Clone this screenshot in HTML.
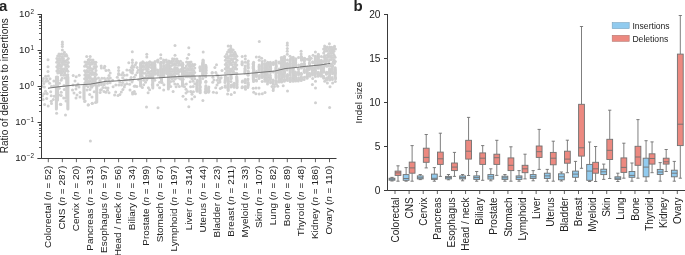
<!DOCTYPE html>
<html><head><meta charset="utf-8"><style>
html,body{margin:0;padding:0;background:#fff;}
body{width:685px;height:255px;overflow:hidden;}
svg{display:block;will-change:transform;font-family:"Liberation Sans", sans-serif;fill:#222;}
</style></head><body>
<svg width="685" height="255" viewBox="0 0 685 255">
<g fill="#d0d0d0">
<circle cx="48.0" cy="59.7" r="1.50"/>
<circle cx="48.0" cy="66.8" r="1.50"/>
<circle cx="48.0" cy="71.5" r="1.50"/>
<circle cx="50.0" cy="78.8" r="1.50"/>
<circle cx="44.6" cy="104.4" r="1.50"/>
<circle cx="48.2" cy="106.0" r="1.50"/>
<circle cx="51.5" cy="103.4" r="1.50"/>
<circle cx="43.5" cy="78.5" r="1.50"/>
<circle cx="44.4" cy="87.0" r="1.50"/>
<circle cx="47.1" cy="93.8" r="1.50"/>
<circle cx="50.7" cy="91.8" r="1.50"/>
<circle cx="53.3" cy="99.6" r="1.50"/>
<circle cx="43.1" cy="99.6" r="1.50"/>
<circle cx="45.6" cy="76.2" r="1.50"/>
<circle cx="48.3" cy="76.0" r="1.50"/>
<circle cx="46.6" cy="78.7" r="1.50"/>
<circle cx="42.5" cy="81.1" r="1.50"/>
<circle cx="45.7" cy="81.2" r="1.50"/>
<circle cx="48.0" cy="81.0" r="1.50"/>
<circle cx="53.9" cy="81.0" r="1.50"/>
<circle cx="43.8" cy="83.5" r="1.50"/>
<circle cx="49.6" cy="83.3" r="1.50"/>
<circle cx="42.2" cy="86.2" r="1.50"/>
<circle cx="51.5" cy="86.2" r="1.50"/>
<circle cx="54.0" cy="86.1" r="1.50"/>
<circle cx="45.5" cy="91.2" r="1.50"/>
<circle cx="43.8" cy="93.7" r="1.50"/>
<circle cx="46.7" cy="93.5" r="1.50"/>
<circle cx="42.5" cy="96.0" r="1.50"/>
<circle cx="51.2" cy="95.7" r="1.50"/>
<circle cx="54.2" cy="96.3" r="1.50"/>
<circle cx="46.7" cy="98.5" r="1.50"/>
<circle cx="51.2" cy="101.3" r="1.50"/>
<circle cx="62.4" cy="42.1" r="1.50"/>
<circle cx="62.4" cy="44.3" r="1.50"/>
<circle cx="62.4" cy="46.5" r="1.50"/>
<circle cx="62.4" cy="50.0" r="1.50"/>
<circle cx="56.6" cy="113.3" r="1.50"/>
<circle cx="65.5" cy="114.9" r="1.50"/>
<circle cx="60.9" cy="104.4" r="1.50"/>
<circle cx="63.7" cy="98.0" r="1.50"/>
<circle cx="61.2" cy="92.2" r="1.50"/>
<circle cx="60.4" cy="104.3" r="1.50"/>
<circle cx="64.3" cy="89.4" r="1.50"/>
<circle cx="59.0" cy="95.0" r="1.50"/>
<circle cx="66.0" cy="101.0" r="1.50"/>
<circle cx="64.4" cy="52.2" r="1.50"/>
<circle cx="59.0" cy="54.0" r="1.50"/>
<circle cx="61.3" cy="54.1" r="1.50"/>
<circle cx="63.5" cy="54.0" r="1.50"/>
<circle cx="66.1" cy="54.4" r="1.50"/>
<circle cx="57.7" cy="56.1" r="1.50"/>
<circle cx="59.8" cy="56.2" r="1.50"/>
<circle cx="62.3" cy="56.4" r="1.50"/>
<circle cx="64.7" cy="56.0" r="1.50"/>
<circle cx="66.9" cy="56.0" r="1.50"/>
<circle cx="56.9" cy="58.4" r="1.50"/>
<circle cx="59.1" cy="58.5" r="1.50"/>
<circle cx="61.5" cy="58.5" r="1.50"/>
<circle cx="63.4" cy="58.6" r="1.50"/>
<circle cx="68.3" cy="58.4" r="1.50"/>
<circle cx="57.8" cy="60.4" r="1.50"/>
<circle cx="60.1" cy="60.6" r="1.50"/>
<circle cx="62.6" cy="60.6" r="1.50"/>
<circle cx="64.7" cy="60.7" r="1.50"/>
<circle cx="67.0" cy="60.2" r="1.50"/>
<circle cx="56.7" cy="62.3" r="1.50"/>
<circle cx="58.8" cy="62.7" r="1.50"/>
<circle cx="61.5" cy="62.6" r="1.50"/>
<circle cx="63.5" cy="62.6" r="1.50"/>
<circle cx="65.7" cy="62.3" r="1.50"/>
<circle cx="68.4" cy="62.6" r="1.50"/>
<circle cx="58.0" cy="64.7" r="1.50"/>
<circle cx="59.9" cy="64.7" r="1.50"/>
<circle cx="62.5" cy="64.5" r="1.50"/>
<circle cx="64.9" cy="64.4" r="1.50"/>
<circle cx="67.2" cy="64.4" r="1.50"/>
<circle cx="56.8" cy="66.7" r="1.50"/>
<circle cx="58.6" cy="66.6" r="1.50"/>
<circle cx="61.3" cy="66.4" r="1.50"/>
<circle cx="65.9" cy="66.4" r="1.50"/>
<circle cx="68.3" cy="66.5" r="1.50"/>
<circle cx="57.9" cy="68.7" r="1.50"/>
<circle cx="60.4" cy="68.6" r="1.50"/>
<circle cx="62.3" cy="68.9" r="1.50"/>
<circle cx="64.4" cy="68.7" r="1.50"/>
<circle cx="66.9" cy="69.0" r="1.50"/>
<circle cx="56.9" cy="71.1" r="1.50"/>
<circle cx="59.0" cy="70.9" r="1.50"/>
<circle cx="61.3" cy="70.8" r="1.50"/>
<circle cx="63.5" cy="71.1" r="1.50"/>
<circle cx="65.9" cy="70.8" r="1.50"/>
<circle cx="67.9" cy="71.2" r="1.50"/>
<circle cx="57.8" cy="73.0" r="1.50"/>
<circle cx="60.1" cy="72.8" r="1.50"/>
<circle cx="62.1" cy="72.8" r="1.50"/>
<circle cx="64.7" cy="73.0" r="1.50"/>
<circle cx="61.2" cy="75.0" r="1.50"/>
<circle cx="63.6" cy="75.3" r="1.50"/>
<circle cx="65.7" cy="75.1" r="1.50"/>
<circle cx="67.8" cy="74.8" r="1.50"/>
<circle cx="56.3" cy="77.0" r="1.50"/>
<circle cx="56.3" cy="78.0" r="1.50"/>
<circle cx="56.3" cy="79.0" r="1.50"/>
<circle cx="56.3" cy="80.0" r="1.50"/>
<circle cx="56.3" cy="81.0" r="1.50"/>
<circle cx="56.3" cy="82.0" r="1.50"/>
<circle cx="56.3" cy="83.0" r="1.50"/>
<circle cx="56.3" cy="84.0" r="1.50"/>
<circle cx="56.3" cy="85.0" r="1.50"/>
<circle cx="56.3" cy="86.0" r="1.50"/>
<circle cx="56.3" cy="87.0" r="1.50"/>
<circle cx="56.3" cy="88.0" r="1.50"/>
<circle cx="56.3" cy="89.0" r="1.50"/>
<circle cx="56.3" cy="90.0" r="1.50"/>
<circle cx="56.3" cy="91.0" r="1.50"/>
<circle cx="56.3" cy="92.0" r="1.50"/>
<circle cx="56.3" cy="93.0" r="1.50"/>
<circle cx="56.3" cy="94.0" r="1.50"/>
<circle cx="56.3" cy="95.0" r="1.50"/>
<circle cx="56.3" cy="96.0" r="1.50"/>
<circle cx="56.3" cy="97.0" r="1.50"/>
<circle cx="56.3" cy="98.0" r="1.50"/>
<circle cx="56.3" cy="99.0" r="1.50"/>
<circle cx="56.3" cy="100.0" r="1.50"/>
<circle cx="56.3" cy="101.0" r="1.50"/>
<circle cx="56.3" cy="102.0" r="1.50"/>
<circle cx="56.3" cy="103.0" r="1.50"/>
<circle cx="56.3" cy="104.0" r="1.50"/>
<circle cx="56.3" cy="105.0" r="1.50"/>
<circle cx="56.3" cy="106.0" r="1.50"/>
<circle cx="56.3" cy="107.0" r="1.50"/>
<circle cx="56.3" cy="108.0" r="1.50"/>
<circle cx="56.3" cy="109.0" r="1.50"/>
<circle cx="57.6" cy="77.0" r="1.50"/>
<circle cx="57.6" cy="78.0" r="1.50"/>
<circle cx="57.6" cy="79.0" r="1.50"/>
<circle cx="57.6" cy="80.0" r="1.50"/>
<circle cx="57.6" cy="81.0" r="1.50"/>
<circle cx="57.6" cy="82.0" r="1.50"/>
<circle cx="57.6" cy="83.0" r="1.50"/>
<circle cx="57.6" cy="84.0" r="1.50"/>
<circle cx="57.6" cy="85.0" r="1.50"/>
<circle cx="57.6" cy="86.0" r="1.50"/>
<circle cx="57.6" cy="87.0" r="1.50"/>
<circle cx="57.6" cy="88.0" r="1.50"/>
<circle cx="57.6" cy="89.0" r="1.50"/>
<circle cx="57.6" cy="90.0" r="1.50"/>
<circle cx="57.6" cy="91.0" r="1.50"/>
<circle cx="57.6" cy="92.0" r="1.50"/>
<circle cx="57.6" cy="93.0" r="1.50"/>
<circle cx="57.6" cy="94.0" r="1.50"/>
<circle cx="57.6" cy="95.0" r="1.50"/>
<circle cx="57.6" cy="96.0" r="1.50"/>
<circle cx="57.6" cy="97.0" r="1.50"/>
<circle cx="57.6" cy="98.0" r="1.50"/>
<circle cx="57.6" cy="99.0" r="1.50"/>
<circle cx="57.6" cy="100.0" r="1.50"/>
<circle cx="67.9" cy="77.0" r="1.50"/>
<circle cx="67.9" cy="78.0" r="1.50"/>
<circle cx="67.9" cy="79.0" r="1.50"/>
<circle cx="67.9" cy="80.0" r="1.50"/>
<circle cx="67.9" cy="81.0" r="1.50"/>
<circle cx="67.9" cy="82.0" r="1.50"/>
<circle cx="67.9" cy="83.0" r="1.50"/>
<circle cx="67.9" cy="84.0" r="1.50"/>
<circle cx="67.9" cy="85.0" r="1.50"/>
<circle cx="67.9" cy="86.0" r="1.50"/>
<circle cx="67.9" cy="87.0" r="1.50"/>
<circle cx="67.9" cy="88.0" r="1.50"/>
<circle cx="67.9" cy="89.0" r="1.50"/>
<circle cx="67.9" cy="90.0" r="1.50"/>
<circle cx="67.9" cy="91.0" r="1.50"/>
<circle cx="67.9" cy="92.0" r="1.50"/>
<circle cx="67.9" cy="93.0" r="1.50"/>
<circle cx="67.9" cy="94.0" r="1.50"/>
<circle cx="67.9" cy="95.0" r="1.50"/>
<circle cx="67.9" cy="96.0" r="1.50"/>
<circle cx="67.9" cy="97.0" r="1.50"/>
<circle cx="67.9" cy="98.0" r="1.50"/>
<circle cx="67.9" cy="99.0" r="1.50"/>
<circle cx="67.9" cy="100.0" r="1.50"/>
<circle cx="67.9" cy="101.0" r="1.50"/>
<circle cx="67.9" cy="102.0" r="1.50"/>
<circle cx="67.9" cy="103.0" r="1.50"/>
<circle cx="67.9" cy="104.0" r="1.50"/>
<circle cx="67.9" cy="105.0" r="1.50"/>
<circle cx="67.9" cy="106.0" r="1.50"/>
<circle cx="67.9" cy="107.0" r="1.50"/>
<circle cx="67.9" cy="108.0" r="1.50"/>
<circle cx="67.9" cy="109.0" r="1.50"/>
<circle cx="66.8" cy="77.0" r="1.50"/>
<circle cx="66.8" cy="78.0" r="1.50"/>
<circle cx="66.8" cy="79.0" r="1.50"/>
<circle cx="66.8" cy="80.0" r="1.50"/>
<circle cx="66.8" cy="81.0" r="1.50"/>
<circle cx="66.8" cy="82.0" r="1.50"/>
<circle cx="66.8" cy="83.0" r="1.50"/>
<circle cx="66.8" cy="84.0" r="1.50"/>
<circle cx="66.8" cy="85.0" r="1.50"/>
<circle cx="66.8" cy="86.0" r="1.50"/>
<circle cx="66.8" cy="87.0" r="1.50"/>
<circle cx="66.8" cy="88.0" r="1.50"/>
<circle cx="66.8" cy="89.0" r="1.50"/>
<circle cx="66.8" cy="90.0" r="1.50"/>
<circle cx="66.8" cy="91.0" r="1.50"/>
<circle cx="66.8" cy="92.0" r="1.50"/>
<circle cx="66.8" cy="93.0" r="1.50"/>
<circle cx="66.8" cy="94.0" r="1.50"/>
<circle cx="66.8" cy="95.0" r="1.50"/>
<circle cx="66.8" cy="96.0" r="1.50"/>
<circle cx="62.1" cy="78.3" r="1.50"/>
<circle cx="65.0" cy="78.1" r="1.50"/>
<circle cx="61.1" cy="80.3" r="1.50"/>
<circle cx="59.5" cy="83.3" r="1.50"/>
<circle cx="64.0" cy="85.6" r="1.50"/>
<circle cx="59.3" cy="88.2" r="1.50"/>
<circle cx="61.2" cy="95.4" r="1.50"/>
<circle cx="65.5" cy="98.1" r="1.50"/>
<circle cx="73.2" cy="75.6" r="1.50"/>
<circle cx="76.2" cy="76.8" r="1.50"/>
<circle cx="79.2" cy="75.2" r="1.50"/>
<circle cx="76.0" cy="89.0" r="1.50"/>
<circle cx="80.0" cy="92.6" r="1.50"/>
<circle cx="76.0" cy="98.0" r="1.50"/>
<circle cx="73.0" cy="85.0" r="1.50"/>
<circle cx="78.0" cy="84.0" r="1.50"/>
<circle cx="74.0" cy="93.0" r="1.50"/>
<circle cx="79.0" cy="87.0" r="1.50"/>
<circle cx="75.0" cy="81.0" r="1.50"/>
<circle cx="77.0" cy="95.0" r="1.50"/>
<circle cx="72.5" cy="90.0" r="1.50"/>
<circle cx="80.0" cy="97.0" r="1.50"/>
<circle cx="76.4" cy="86.0" r="1.50"/>
<circle cx="86.7" cy="56.6" r="1.50"/>
<circle cx="90.2" cy="56.6" r="1.50"/>
<circle cx="89.0" cy="59.4" r="1.50"/>
<circle cx="84.6" cy="101.4" r="1.50"/>
<circle cx="88.4" cy="104.7" r="1.50"/>
<circle cx="92.2" cy="103.4" r="1.50"/>
<circle cx="95.5" cy="102.6" r="1.50"/>
<circle cx="90.4" cy="141.1" r="1.50"/>
<circle cx="88.2" cy="59.9" r="1.50"/>
<circle cx="90.6" cy="59.7" r="1.50"/>
<circle cx="93.0" cy="59.9" r="1.50"/>
<circle cx="85.0" cy="62.1" r="1.50"/>
<circle cx="87.0" cy="62.2" r="1.50"/>
<circle cx="89.4" cy="62.3" r="1.50"/>
<circle cx="91.8" cy="62.2" r="1.50"/>
<circle cx="94.1" cy="62.2" r="1.50"/>
<circle cx="95.9" cy="62.3" r="1.50"/>
<circle cx="86.0" cy="64.4" r="1.50"/>
<circle cx="88.4" cy="64.1" r="1.50"/>
<circle cx="90.4" cy="64.5" r="1.50"/>
<circle cx="92.5" cy="64.0" r="1.50"/>
<circle cx="95.4" cy="64.2" r="1.50"/>
<circle cx="84.6" cy="66.3" r="1.50"/>
<circle cx="86.9" cy="66.4" r="1.50"/>
<circle cx="89.6" cy="66.4" r="1.50"/>
<circle cx="94.2" cy="66.4" r="1.50"/>
<circle cx="96.4" cy="66.6" r="1.50"/>
<circle cx="88.3" cy="68.2" r="1.50"/>
<circle cx="90.5" cy="68.3" r="1.50"/>
<circle cx="93.0" cy="68.7" r="1.50"/>
<circle cx="95.3" cy="68.3" r="1.50"/>
<circle cx="84.6" cy="70.7" r="1.50"/>
<circle cx="86.8" cy="70.6" r="1.50"/>
<circle cx="89.5" cy="70.4" r="1.50"/>
<circle cx="91.9" cy="70.5" r="1.50"/>
<circle cx="96.0" cy="70.6" r="1.50"/>
<circle cx="85.7" cy="72.5" r="1.50"/>
<circle cx="88.0" cy="72.3" r="1.50"/>
<circle cx="90.4" cy="72.9" r="1.50"/>
<circle cx="92.7" cy="72.6" r="1.50"/>
<circle cx="95.2" cy="72.7" r="1.50"/>
<circle cx="84.8" cy="75.0" r="1.50"/>
<circle cx="87.0" cy="74.8" r="1.50"/>
<circle cx="89.2" cy="75.0" r="1.50"/>
<circle cx="91.7" cy="74.4" r="1.50"/>
<circle cx="94.0" cy="74.4" r="1.50"/>
<circle cx="96.3" cy="74.4" r="1.50"/>
<circle cx="85.9" cy="76.9" r="1.50"/>
<circle cx="88.3" cy="76.9" r="1.50"/>
<circle cx="90.2" cy="76.9" r="1.50"/>
<circle cx="95.1" cy="76.9" r="1.50"/>
<circle cx="84.6" cy="78.8" r="1.50"/>
<circle cx="87.1" cy="78.8" r="1.50"/>
<circle cx="89.5" cy="78.6" r="1.50"/>
<circle cx="91.8" cy="78.8" r="1.50"/>
<circle cx="94.1" cy="78.7" r="1.50"/>
<circle cx="96.2" cy="79.0" r="1.50"/>
<circle cx="85.8" cy="80.9" r="1.50"/>
<circle cx="88.1" cy="81.2" r="1.50"/>
<circle cx="90.4" cy="81.1" r="1.50"/>
<circle cx="92.8" cy="80.8" r="1.50"/>
<circle cx="95.1" cy="80.8" r="1.50"/>
<circle cx="84.9" cy="82.9" r="1.50"/>
<circle cx="87.2" cy="83.2" r="1.50"/>
<circle cx="89.2" cy="82.9" r="1.50"/>
<circle cx="91.8" cy="83.0" r="1.50"/>
<circle cx="93.9" cy="83.1" r="1.50"/>
<circle cx="96.5" cy="82.9" r="1.50"/>
<circle cx="86.1" cy="85.4" r="1.50"/>
<circle cx="90.8" cy="85.5" r="1.50"/>
<circle cx="92.9" cy="85.4" r="1.50"/>
<circle cx="95.1" cy="85.1" r="1.50"/>
<circle cx="84.0" cy="86.0" r="1.50"/>
<circle cx="84.0" cy="87.0" r="1.50"/>
<circle cx="84.0" cy="88.0" r="1.50"/>
<circle cx="84.0" cy="89.0" r="1.50"/>
<circle cx="84.0" cy="90.0" r="1.50"/>
<circle cx="84.0" cy="91.0" r="1.50"/>
<circle cx="84.0" cy="92.0" r="1.50"/>
<circle cx="84.0" cy="93.0" r="1.50"/>
<circle cx="84.0" cy="94.0" r="1.50"/>
<circle cx="84.0" cy="95.0" r="1.50"/>
<circle cx="84.0" cy="96.0" r="1.50"/>
<circle cx="84.0" cy="97.0" r="1.50"/>
<circle cx="84.0" cy="98.0" r="1.50"/>
<circle cx="84.0" cy="99.0" r="1.50"/>
<circle cx="96.8" cy="86.0" r="1.50"/>
<circle cx="96.8" cy="87.0" r="1.50"/>
<circle cx="96.8" cy="88.0" r="1.50"/>
<circle cx="96.8" cy="89.0" r="1.50"/>
<circle cx="96.8" cy="90.0" r="1.50"/>
<circle cx="96.8" cy="91.0" r="1.50"/>
<circle cx="96.8" cy="92.0" r="1.50"/>
<circle cx="96.8" cy="93.0" r="1.50"/>
<circle cx="96.8" cy="94.0" r="1.50"/>
<circle cx="96.8" cy="95.0" r="1.50"/>
<circle cx="96.8" cy="96.0" r="1.50"/>
<circle cx="96.8" cy="97.0" r="1.50"/>
<circle cx="96.8" cy="98.0" r="1.50"/>
<circle cx="96.8" cy="99.0" r="1.50"/>
<circle cx="96.8" cy="100.0" r="1.50"/>
<circle cx="96.8" cy="101.0" r="1.50"/>
<circle cx="96.8" cy="102.0" r="1.50"/>
<circle cx="88.1" cy="86.7" r="1.50"/>
<circle cx="91.6" cy="87.3" r="1.50"/>
<circle cx="89.7" cy="94.4" r="1.50"/>
<circle cx="94.2" cy="91.8" r="1.50"/>
<circle cx="85.1" cy="100.9" r="1.50"/>
<circle cx="88.1" cy="105.0" r="1.50"/>
<circle cx="92.2" cy="103.2" r="1.50"/>
<circle cx="87.0" cy="90.0" r="1.50"/>
<circle cx="92.0" cy="97.0" r="1.50"/>
<circle cx="90.0" cy="89.5" r="1.50"/>
<circle cx="101.2" cy="65.9" r="1.50"/>
<circle cx="104.7" cy="66.3" r="1.50"/>
<circle cx="100.5" cy="90.0" r="1.50"/>
<circle cx="104.0" cy="91.5" r="1.50"/>
<circle cx="108.0" cy="88.0" r="1.50"/>
<circle cx="101.4" cy="67.9" r="1.50"/>
<circle cx="104.3" cy="67.9" r="1.50"/>
<circle cx="106.0" cy="70.4" r="1.50"/>
<circle cx="108.7" cy="70.3" r="1.50"/>
<circle cx="110.2" cy="73.1" r="1.50"/>
<circle cx="109.0" cy="75.6" r="1.50"/>
<circle cx="98.5" cy="78.0" r="1.50"/>
<circle cx="101.9" cy="78.2" r="1.50"/>
<circle cx="104.4" cy="78.2" r="1.50"/>
<circle cx="107.7" cy="78.2" r="1.50"/>
<circle cx="110.3" cy="78.1" r="1.50"/>
<circle cx="100.0" cy="80.4" r="1.50"/>
<circle cx="105.7" cy="80.6" r="1.50"/>
<circle cx="108.9" cy="80.5" r="1.50"/>
<circle cx="99.0" cy="82.8" r="1.50"/>
<circle cx="101.5" cy="83.1" r="1.50"/>
<circle cx="104.5" cy="83.1" r="1.50"/>
<circle cx="107.5" cy="83.2" r="1.50"/>
<circle cx="110.1" cy="82.8" r="1.50"/>
<circle cx="98.8" cy="85.2" r="1.50"/>
<circle cx="101.5" cy="84.7" r="1.50"/>
<circle cx="104.2" cy="84.8" r="1.50"/>
<circle cx="103.0" cy="87.6" r="1.50"/>
<circle cx="105.7" cy="87.7" r="1.50"/>
<circle cx="101.4" cy="89.8" r="1.50"/>
<circle cx="107.5" cy="90.3" r="1.50"/>
<circle cx="100.1" cy="92.5" r="1.50"/>
<circle cx="105.8" cy="92.3" r="1.50"/>
<circle cx="109.0" cy="92.7" r="1.50"/>
<circle cx="118.6" cy="67.6" r="1.50"/>
<circle cx="118.6" cy="70.6" r="1.50"/>
<circle cx="118.6" cy="73.4" r="1.50"/>
<circle cx="114.6" cy="95.0" r="1.50"/>
<circle cx="118.0" cy="95.5" r="1.50"/>
<circle cx="122.9" cy="72.8" r="1.50"/>
<circle cx="118.6" cy="74.8" r="1.50"/>
<circle cx="121.5" cy="74.7" r="1.50"/>
<circle cx="124.3" cy="75.2" r="1.50"/>
<circle cx="117.3" cy="77.3" r="1.50"/>
<circle cx="122.7" cy="77.7" r="1.50"/>
<circle cx="112.6" cy="80.3" r="1.50"/>
<circle cx="118.9" cy="80.0" r="1.50"/>
<circle cx="124.7" cy="80.1" r="1.50"/>
<circle cx="120.0" cy="82.3" r="1.50"/>
<circle cx="122.7" cy="82.4" r="1.50"/>
<circle cx="115.8" cy="84.9" r="1.50"/>
<circle cx="118.8" cy="85.0" r="1.50"/>
<circle cx="121.5" cy="85.1" r="1.50"/>
<circle cx="124.7" cy="84.7" r="1.50"/>
<circle cx="113.1" cy="86.8" r="1.50"/>
<circle cx="124.3" cy="87.1" r="1.50"/>
<circle cx="122.9" cy="89.6" r="1.50"/>
<circle cx="115.7" cy="92.1" r="1.50"/>
<circle cx="121.3" cy="92.1" r="1.50"/>
<circle cx="119.9" cy="94.5" r="1.50"/>
<circle cx="132.3" cy="51.7" r="1.50"/>
<circle cx="132.4" cy="60.0" r="1.50"/>
<circle cx="132.4" cy="62.5" r="1.50"/>
<circle cx="132.4" cy="65.5" r="1.50"/>
<circle cx="132.4" cy="67.5" r="1.50"/>
<circle cx="132.4" cy="70.5" r="1.50"/>
<circle cx="132.4" cy="73.0" r="1.50"/>
<circle cx="128.8" cy="62.7" r="1.50"/>
<circle cx="136.2" cy="62.7" r="1.50"/>
<circle cx="134.0" cy="67.0" r="1.50"/>
<circle cx="132.0" cy="82.0" r="1.50"/>
<circle cx="135.0" cy="86.0" r="1.50"/>
<circle cx="130.0" cy="90.0" r="1.50"/>
<circle cx="132.5" cy="92.5" r="1.50"/>
<circle cx="135.4" cy="64.7" r="1.50"/>
<circle cx="131.4" cy="67.4" r="1.50"/>
<circle cx="137.2" cy="67.6" r="1.50"/>
<circle cx="126.9" cy="70.1" r="1.50"/>
<circle cx="129.8" cy="70.2" r="1.50"/>
<circle cx="132.8" cy="70.1" r="1.50"/>
<circle cx="138.2" cy="70.2" r="1.50"/>
<circle cx="131.0" cy="72.3" r="1.50"/>
<circle cx="137.3" cy="72.6" r="1.50"/>
<circle cx="127.0" cy="74.9" r="1.50"/>
<circle cx="135.6" cy="75.1" r="1.50"/>
<circle cx="131.1" cy="77.6" r="1.50"/>
<circle cx="134.2" cy="77.3" r="1.50"/>
<circle cx="126.6" cy="80.1" r="1.50"/>
<circle cx="129.6" cy="80.0" r="1.50"/>
<circle cx="132.5" cy="80.2" r="1.50"/>
<circle cx="138.6" cy="79.7" r="1.50"/>
<circle cx="126.8" cy="83.8" r="1.50"/>
<circle cx="129.6" cy="84.2" r="1.50"/>
<circle cx="134.3" cy="86.2" r="1.50"/>
<circle cx="136.8" cy="86.6" r="1.50"/>
<circle cx="134.3" cy="91.6" r="1.50"/>
<circle cx="132.6" cy="94.0" r="1.50"/>
<circle cx="135.4" cy="93.8" r="1.50"/>
<circle cx="146.8" cy="54.3" r="1.50"/>
<circle cx="146.8" cy="57.0" r="1.50"/>
<circle cx="142.8" cy="61.7" r="1.50"/>
<circle cx="149.8" cy="61.7" r="1.50"/>
<circle cx="146.5" cy="107.0" r="1.50"/>
<circle cx="141.9" cy="63.1" r="1.50"/>
<circle cx="144.4" cy="62.9" r="1.50"/>
<circle cx="146.7" cy="62.7" r="1.50"/>
<circle cx="148.8" cy="62.8" r="1.50"/>
<circle cx="151.5" cy="62.8" r="1.50"/>
<circle cx="141.0" cy="65.4" r="1.50"/>
<circle cx="143.2" cy="65.4" r="1.50"/>
<circle cx="145.8" cy="65.0" r="1.50"/>
<circle cx="147.6" cy="65.0" r="1.50"/>
<circle cx="150.0" cy="65.1" r="1.50"/>
<circle cx="152.4" cy="65.1" r="1.50"/>
<circle cx="141.9" cy="67.0" r="1.50"/>
<circle cx="144.4" cy="67.1" r="1.50"/>
<circle cx="146.7" cy="67.1" r="1.50"/>
<circle cx="149.1" cy="67.0" r="1.50"/>
<circle cx="151.3" cy="67.4" r="1.50"/>
<circle cx="140.8" cy="69.6" r="1.50"/>
<circle cx="143.2" cy="69.5" r="1.50"/>
<circle cx="145.6" cy="69.0" r="1.50"/>
<circle cx="148.0" cy="69.3" r="1.50"/>
<circle cx="152.6" cy="69.4" r="1.50"/>
<circle cx="142.1" cy="71.6" r="1.50"/>
<circle cx="146.8" cy="71.1" r="1.50"/>
<circle cx="149.1" cy="71.7" r="1.50"/>
<circle cx="151.2" cy="71.3" r="1.50"/>
<circle cx="140.7" cy="73.5" r="1.50"/>
<circle cx="143.0" cy="73.2" r="1.50"/>
<circle cx="145.3" cy="73.3" r="1.50"/>
<circle cx="148.1" cy="73.2" r="1.50"/>
<circle cx="150.2" cy="73.7" r="1.50"/>
<circle cx="152.7" cy="73.4" r="1.50"/>
<circle cx="142.0" cy="75.8" r="1.50"/>
<circle cx="146.5" cy="75.4" r="1.50"/>
<circle cx="149.0" cy="75.7" r="1.50"/>
<circle cx="151.0" cy="75.6" r="1.50"/>
<circle cx="141.0" cy="78.0" r="1.50"/>
<circle cx="143.3" cy="77.8" r="1.50"/>
<circle cx="145.3" cy="77.9" r="1.50"/>
<circle cx="148.1" cy="77.9" r="1.50"/>
<circle cx="150.1" cy="77.5" r="1.50"/>
<circle cx="152.2" cy="77.4" r="1.50"/>
<circle cx="143.7" cy="80.2" r="1.50"/>
<circle cx="146.7" cy="80.0" r="1.50"/>
<circle cx="152.6" cy="80.0" r="1.50"/>
<circle cx="145.5" cy="82.3" r="1.50"/>
<circle cx="143.7" cy="84.8" r="1.50"/>
<circle cx="152.3" cy="84.7" r="1.50"/>
<circle cx="142.4" cy="87.5" r="1.50"/>
<circle cx="148.4" cy="87.8" r="1.50"/>
<circle cx="149.6" cy="89.7" r="1.50"/>
<circle cx="148.1" cy="92.7" r="1.50"/>
<circle cx="160.8" cy="54.7" r="1.50"/>
<circle cx="160.8" cy="58.2" r="1.50"/>
<circle cx="157.5" cy="60.6" r="1.50"/>
<circle cx="158.0" cy="107.7" r="1.50"/>
<circle cx="155.0" cy="61.6" r="1.50"/>
<circle cx="155.0" cy="62.6" r="1.50"/>
<circle cx="154.8" cy="64.3" r="1.50"/>
<circle cx="154.8" cy="65.3" r="1.50"/>
<circle cx="154.7" cy="66.3" r="1.50"/>
<circle cx="154.9" cy="67.3" r="1.50"/>
<circle cx="154.9" cy="68.3" r="1.50"/>
<circle cx="155.2" cy="69.3" r="1.50"/>
<circle cx="154.9" cy="70.3" r="1.50"/>
<circle cx="154.8" cy="71.3" r="1.50"/>
<circle cx="154.9" cy="72.3" r="1.50"/>
<circle cx="155.2" cy="73.3" r="1.50"/>
<circle cx="154.8" cy="74.3" r="1.50"/>
<circle cx="158.0" cy="60.1" r="1.50"/>
<circle cx="157.9" cy="61.1" r="1.50"/>
<circle cx="158.0" cy="62.1" r="1.50"/>
<circle cx="157.7" cy="70.1" r="1.50"/>
<circle cx="157.7" cy="71.1" r="1.50"/>
<circle cx="158.1" cy="72.1" r="1.50"/>
<circle cx="157.9" cy="73.1" r="1.50"/>
<circle cx="157.7" cy="74.1" r="1.50"/>
<circle cx="158.1" cy="75.1" r="1.50"/>
<circle cx="161.0" cy="62.2" r="1.50"/>
<circle cx="160.6" cy="63.2" r="1.50"/>
<circle cx="160.9" cy="64.2" r="1.50"/>
<circle cx="160.9" cy="65.5" r="1.50"/>
<circle cx="161.0" cy="66.5" r="1.50"/>
<circle cx="161.0" cy="67.5" r="1.50"/>
<circle cx="160.8" cy="68.5" r="1.50"/>
<circle cx="160.6" cy="69.5" r="1.50"/>
<circle cx="160.6" cy="70.5" r="1.50"/>
<circle cx="160.8" cy="71.5" r="1.50"/>
<circle cx="160.8" cy="72.5" r="1.50"/>
<circle cx="160.8" cy="73.7" r="1.50"/>
<circle cx="160.9" cy="74.7" r="1.50"/>
<circle cx="160.6" cy="75.7" r="1.50"/>
<circle cx="160.7" cy="76.7" r="1.50"/>
<circle cx="160.5" cy="77.7" r="1.50"/>
<circle cx="163.6" cy="60.0" r="1.50"/>
<circle cx="163.8" cy="61.0" r="1.50"/>
<circle cx="163.9" cy="62.0" r="1.50"/>
<circle cx="163.5" cy="63.0" r="1.50"/>
<circle cx="163.8" cy="65.5" r="1.50"/>
<circle cx="163.9" cy="66.5" r="1.50"/>
<circle cx="163.6" cy="68.2" r="1.50"/>
<circle cx="163.4" cy="69.2" r="1.50"/>
<circle cx="163.8" cy="70.2" r="1.50"/>
<circle cx="163.6" cy="71.2" r="1.50"/>
<circle cx="163.5" cy="72.2" r="1.50"/>
<circle cx="163.6" cy="73.2" r="1.50"/>
<circle cx="163.5" cy="74.2" r="1.50"/>
<circle cx="163.6" cy="75.2" r="1.50"/>
<circle cx="163.7" cy="76.2" r="1.50"/>
<circle cx="166.6" cy="62.0" r="1.50"/>
<circle cx="166.6" cy="64.4" r="1.50"/>
<circle cx="166.7" cy="65.4" r="1.50"/>
<circle cx="166.8" cy="66.4" r="1.50"/>
<circle cx="166.4" cy="67.4" r="1.50"/>
<circle cx="166.3" cy="68.4" r="1.50"/>
<circle cx="166.4" cy="69.4" r="1.50"/>
<circle cx="166.5" cy="70.4" r="1.50"/>
<circle cx="166.6" cy="71.4" r="1.50"/>
<circle cx="166.7" cy="72.4" r="1.50"/>
<circle cx="166.5" cy="73.4" r="1.50"/>
<circle cx="154.8" cy="80.2" r="1.50"/>
<circle cx="159.6" cy="82.3" r="1.50"/>
<circle cx="162.0" cy="82.4" r="1.50"/>
<circle cx="157.7" cy="85.0" r="1.50"/>
<circle cx="163.9" cy="84.8" r="1.50"/>
<circle cx="159.6" cy="87.8" r="1.50"/>
<circle cx="163.7" cy="89.9" r="1.50"/>
<circle cx="175.0" cy="45.4" r="1.50"/>
<circle cx="175.0" cy="55.2" r="1.50"/>
<circle cx="166.2" cy="59.9" r="1.50"/>
<circle cx="172.5" cy="58.8" r="1.50"/>
<circle cx="174.5" cy="59.0" r="1.50"/>
<circle cx="176.9" cy="59.0" r="1.50"/>
<circle cx="168.8" cy="61.0" r="1.50"/>
<circle cx="171.4" cy="61.2" r="1.50"/>
<circle cx="173.5" cy="60.9" r="1.50"/>
<circle cx="176.2" cy="61.2" r="1.50"/>
<circle cx="178.2" cy="61.2" r="1.50"/>
<circle cx="180.5" cy="61.2" r="1.50"/>
<circle cx="170.2" cy="63.0" r="1.50"/>
<circle cx="172.4" cy="63.1" r="1.50"/>
<circle cx="174.7" cy="63.4" r="1.50"/>
<circle cx="176.9" cy="63.1" r="1.50"/>
<circle cx="179.2" cy="63.2" r="1.50"/>
<circle cx="168.9" cy="65.4" r="1.50"/>
<circle cx="171.4" cy="65.5" r="1.50"/>
<circle cx="173.4" cy="65.1" r="1.50"/>
<circle cx="175.7" cy="65.1" r="1.50"/>
<circle cx="178.5" cy="65.3" r="1.50"/>
<circle cx="180.7" cy="65.1" r="1.50"/>
<circle cx="170.0" cy="67.5" r="1.50"/>
<circle cx="174.9" cy="67.5" r="1.50"/>
<circle cx="177.0" cy="67.7" r="1.50"/>
<circle cx="169.2" cy="69.8" r="1.50"/>
<circle cx="171.5" cy="69.2" r="1.50"/>
<circle cx="173.8" cy="69.6" r="1.50"/>
<circle cx="175.7" cy="69.4" r="1.50"/>
<circle cx="178.3" cy="69.5" r="1.50"/>
<circle cx="180.9" cy="69.5" r="1.50"/>
<circle cx="170.4" cy="71.5" r="1.50"/>
<circle cx="172.4" cy="71.6" r="1.50"/>
<circle cx="174.6" cy="71.7" r="1.50"/>
<circle cx="177.3" cy="71.3" r="1.50"/>
<circle cx="179.6" cy="71.6" r="1.50"/>
<circle cx="168.9" cy="73.8" r="1.50"/>
<circle cx="171.2" cy="74.0" r="1.50"/>
<circle cx="173.6" cy="73.9" r="1.50"/>
<circle cx="176.1" cy="73.5" r="1.50"/>
<circle cx="178.1" cy="73.4" r="1.50"/>
<circle cx="170.5" cy="76.1" r="1.50"/>
<circle cx="172.2" cy="75.5" r="1.50"/>
<circle cx="174.8" cy="75.9" r="1.50"/>
<circle cx="179.2" cy="75.8" r="1.50"/>
<circle cx="168.8" cy="77.9" r="1.50"/>
<circle cx="171.1" cy="77.9" r="1.50"/>
<circle cx="173.8" cy="77.8" r="1.50"/>
<circle cx="175.8" cy="78.0" r="1.50"/>
<circle cx="178.5" cy="77.9" r="1.50"/>
<circle cx="180.3" cy="77.9" r="1.50"/>
<circle cx="168.9" cy="78.8" r="1.50"/>
<circle cx="172.1" cy="78.9" r="1.50"/>
<circle cx="175.0" cy="79.0" r="1.50"/>
<circle cx="180.6" cy="79.1" r="1.50"/>
<circle cx="170.7" cy="81.4" r="1.50"/>
<circle cx="173.5" cy="81.3" r="1.50"/>
<circle cx="169.3" cy="84.0" r="1.50"/>
<circle cx="174.8" cy="83.9" r="1.50"/>
<circle cx="177.6" cy="84.3" r="1.50"/>
<circle cx="170.7" cy="86.6" r="1.50"/>
<circle cx="176.1" cy="86.8" r="1.50"/>
<circle cx="179.4" cy="86.6" r="1.50"/>
<circle cx="173.1" cy="91.5" r="1.50"/>
<circle cx="188.8" cy="47.7" r="1.50"/>
<circle cx="188.8" cy="54.5" r="1.50"/>
<circle cx="187.3" cy="58.2" r="1.50"/>
<circle cx="183.0" cy="96.2" r="1.50"/>
<circle cx="185.8" cy="99.2" r="1.50"/>
<circle cx="188.8" cy="106.8" r="1.50"/>
<circle cx="191.9" cy="99.0" r="1.50"/>
<circle cx="194.6" cy="96.8" r="1.50"/>
<circle cx="191.4" cy="92.0" r="1.50"/>
<circle cx="186.0" cy="93.0" r="1.50"/>
<circle cx="186.6" cy="62.0" r="1.50"/>
<circle cx="189.1" cy="62.2" r="1.50"/>
<circle cx="191.0" cy="62.0" r="1.50"/>
<circle cx="183.0" cy="64.4" r="1.50"/>
<circle cx="188.0" cy="64.2" r="1.50"/>
<circle cx="189.9" cy="64.2" r="1.50"/>
<circle cx="192.5" cy="64.2" r="1.50"/>
<circle cx="194.8" cy="64.4" r="1.50"/>
<circle cx="186.3" cy="65.9" r="1.50"/>
<circle cx="189.2" cy="66.1" r="1.50"/>
<circle cx="191.4" cy="66.1" r="1.50"/>
<circle cx="193.5" cy="65.9" r="1.50"/>
<circle cx="183.4" cy="68.1" r="1.50"/>
<circle cx="185.4" cy="68.0" r="1.50"/>
<circle cx="187.9" cy="68.4" r="1.50"/>
<circle cx="190.3" cy="68.1" r="1.50"/>
<circle cx="192.3" cy="68.4" r="1.50"/>
<circle cx="194.8" cy="68.1" r="1.50"/>
<circle cx="184.5" cy="70.7" r="1.50"/>
<circle cx="186.5" cy="70.2" r="1.50"/>
<circle cx="189.0" cy="70.2" r="1.50"/>
<circle cx="191.2" cy="70.2" r="1.50"/>
<circle cx="193.7" cy="70.6" r="1.50"/>
<circle cx="183.1" cy="72.5" r="1.50"/>
<circle cx="185.6" cy="72.4" r="1.50"/>
<circle cx="187.5" cy="72.5" r="1.50"/>
<circle cx="190.0" cy="72.7" r="1.50"/>
<circle cx="192.2" cy="72.5" r="1.50"/>
<circle cx="194.7" cy="72.6" r="1.50"/>
<circle cx="184.3" cy="74.6" r="1.50"/>
<circle cx="186.6" cy="74.7" r="1.50"/>
<circle cx="188.9" cy="74.4" r="1.50"/>
<circle cx="191.5" cy="74.5" r="1.50"/>
<circle cx="193.2" cy="74.6" r="1.50"/>
<circle cx="182.9" cy="76.5" r="1.50"/>
<circle cx="185.7" cy="76.7" r="1.50"/>
<circle cx="187.7" cy="76.7" r="1.50"/>
<circle cx="190.2" cy="76.9" r="1.50"/>
<circle cx="192.3" cy="76.8" r="1.50"/>
<circle cx="194.4" cy="76.5" r="1.50"/>
<circle cx="183.1" cy="79.2" r="1.50"/>
<circle cx="192.0" cy="79.0" r="1.50"/>
<circle cx="194.7" cy="78.7" r="1.50"/>
<circle cx="190.2" cy="81.7" r="1.50"/>
<circle cx="193.1" cy="81.3" r="1.50"/>
<circle cx="183.2" cy="84.3" r="1.50"/>
<circle cx="186.3" cy="84.0" r="1.50"/>
<circle cx="194.8" cy="83.8" r="1.50"/>
<circle cx="184.5" cy="86.7" r="1.50"/>
<circle cx="190.6" cy="86.7" r="1.50"/>
<circle cx="193.2" cy="86.6" r="1.50"/>
<circle cx="186.0" cy="89.3" r="1.50"/>
<circle cx="187.5" cy="91.5" r="1.50"/>
<circle cx="190.6" cy="91.4" r="1.50"/>
<circle cx="193.4" cy="91.7" r="1.50"/>
<circle cx="192.0" cy="94.2" r="1.50"/>
<circle cx="203.2" cy="51.9" r="1.50"/>
<circle cx="203.2" cy="60.6" r="1.50"/>
<circle cx="203.2" cy="64.0" r="1.50"/>
<circle cx="200.2" cy="92.7" r="1.50"/>
<circle cx="202.9" cy="100.4" r="1.50"/>
<circle cx="205.1" cy="91.9" r="1.50"/>
<circle cx="208.4" cy="91.9" r="1.50"/>
<circle cx="197.4" cy="80.2" r="1.50"/>
<circle cx="197.2" cy="81.2" r="1.50"/>
<circle cx="197.2" cy="82.2" r="1.50"/>
<circle cx="197.0" cy="83.2" r="1.50"/>
<circle cx="196.9" cy="84.2" r="1.50"/>
<circle cx="197.2" cy="85.2" r="1.50"/>
<circle cx="196.9" cy="86.2" r="1.50"/>
<circle cx="197.0" cy="87.2" r="1.50"/>
<circle cx="197.0" cy="88.2" r="1.50"/>
<circle cx="196.9" cy="89.2" r="1.50"/>
<circle cx="197.1" cy="90.2" r="1.50"/>
<circle cx="197.1" cy="91.2" r="1.50"/>
<circle cx="200.0" cy="66.8" r="1.50"/>
<circle cx="199.9" cy="67.8" r="1.50"/>
<circle cx="200.3" cy="68.8" r="1.50"/>
<circle cx="200.3" cy="69.8" r="1.50"/>
<circle cx="200.2" cy="70.8" r="1.50"/>
<circle cx="199.9" cy="76.8" r="1.50"/>
<circle cx="200.0" cy="77.8" r="1.50"/>
<circle cx="200.0" cy="79.1" r="1.50"/>
<circle cx="200.2" cy="80.1" r="1.50"/>
<circle cx="200.0" cy="81.1" r="1.50"/>
<circle cx="200.3" cy="82.1" r="1.50"/>
<circle cx="200.2" cy="83.1" r="1.50"/>
<circle cx="199.8" cy="84.1" r="1.50"/>
<circle cx="200.0" cy="86.0" r="1.50"/>
<circle cx="200.3" cy="87.0" r="1.50"/>
<circle cx="200.0" cy="88.0" r="1.50"/>
<circle cx="199.8" cy="89.0" r="1.50"/>
<circle cx="200.1" cy="90.0" r="1.50"/>
<circle cx="200.2" cy="91.0" r="1.50"/>
<circle cx="199.9" cy="92.0" r="1.50"/>
<circle cx="203.1" cy="62.3" r="1.50"/>
<circle cx="202.8" cy="63.3" r="1.50"/>
<circle cx="202.8" cy="64.3" r="1.50"/>
<circle cx="202.8" cy="65.3" r="1.50"/>
<circle cx="202.7" cy="66.3" r="1.50"/>
<circle cx="203.1" cy="67.3" r="1.50"/>
<circle cx="202.8" cy="68.3" r="1.50"/>
<circle cx="203.0" cy="69.3" r="1.50"/>
<circle cx="202.9" cy="70.3" r="1.50"/>
<circle cx="202.8" cy="71.3" r="1.50"/>
<circle cx="203.1" cy="72.3" r="1.50"/>
<circle cx="202.8" cy="73.3" r="1.50"/>
<circle cx="203.0" cy="74.3" r="1.50"/>
<circle cx="202.8" cy="75.3" r="1.50"/>
<circle cx="202.8" cy="78.5" r="1.50"/>
<circle cx="205.7" cy="65.2" r="1.50"/>
<circle cx="205.8" cy="66.2" r="1.50"/>
<circle cx="206.0" cy="67.2" r="1.50"/>
<circle cx="205.9" cy="68.2" r="1.50"/>
<circle cx="205.7" cy="69.2" r="1.50"/>
<circle cx="206.1" cy="70.2" r="1.50"/>
<circle cx="205.7" cy="71.2" r="1.50"/>
<circle cx="205.7" cy="72.2" r="1.50"/>
<circle cx="206.0" cy="73.2" r="1.50"/>
<circle cx="205.6" cy="75.8" r="1.50"/>
<circle cx="205.7" cy="76.8" r="1.50"/>
<circle cx="205.9" cy="81.3" r="1.50"/>
<circle cx="205.8" cy="82.3" r="1.50"/>
<circle cx="205.9" cy="85.7" r="1.50"/>
<circle cx="205.9" cy="86.7" r="1.50"/>
<circle cx="206.0" cy="87.7" r="1.50"/>
<circle cx="205.7" cy="88.7" r="1.50"/>
<circle cx="205.7" cy="89.7" r="1.50"/>
<circle cx="206.1" cy="90.7" r="1.50"/>
<circle cx="206.0" cy="91.7" r="1.50"/>
<circle cx="205.7" cy="92.7" r="1.50"/>
<circle cx="208.8" cy="87.0" r="1.50"/>
<circle cx="208.7" cy="88.0" r="1.50"/>
<circle cx="208.6" cy="89.0" r="1.50"/>
<circle cx="208.5" cy="90.0" r="1.50"/>
<circle cx="209.0" cy="91.0" r="1.50"/>
<circle cx="208.6" cy="92.0" r="1.50"/>
<circle cx="216.5" cy="64.8" r="1.50"/>
<circle cx="214.9" cy="67.6" r="1.50"/>
<circle cx="222.0" cy="70.6" r="1.50"/>
<circle cx="213.4" cy="92.2" r="1.50"/>
<circle cx="216.6" cy="92.7" r="1.50"/>
<circle cx="220.3" cy="88.4" r="1.50"/>
<circle cx="222.0" cy="87.6" r="1.50"/>
<circle cx="214.0" cy="80.0" r="1.50"/>
<circle cx="218.0" cy="76.0" r="1.50"/>
<circle cx="212.0" cy="73.0" r="1.50"/>
<circle cx="220.0" cy="82.0" r="1.50"/>
<circle cx="217.0" cy="85.0" r="1.50"/>
<circle cx="212.4" cy="72.4" r="1.50"/>
<circle cx="215.8" cy="72.6" r="1.50"/>
<circle cx="217.0" cy="74.8" r="1.50"/>
<circle cx="212.9" cy="77.2" r="1.50"/>
<circle cx="218.4" cy="77.7" r="1.50"/>
<circle cx="221.1" cy="77.7" r="1.50"/>
<circle cx="217.3" cy="80.3" r="1.50"/>
<circle cx="219.9" cy="79.8" r="1.50"/>
<circle cx="212.7" cy="82.3" r="1.50"/>
<circle cx="218.3" cy="82.7" r="1.50"/>
<circle cx="215.7" cy="87.8" r="1.50"/>
<circle cx="228.2" cy="46.1" r="1.50"/>
<circle cx="230.6" cy="46.1" r="1.50"/>
<circle cx="230.9" cy="48.2" r="1.50"/>
<circle cx="227.6" cy="94.1" r="1.50"/>
<circle cx="231.2" cy="94.4" r="1.50"/>
<circle cx="234.5" cy="92.5" r="1.50"/>
<circle cx="228.9" cy="50.1" r="1.50"/>
<circle cx="230.9" cy="49.8" r="1.50"/>
<circle cx="233.2" cy="50.1" r="1.50"/>
<circle cx="227.6" cy="51.9" r="1.50"/>
<circle cx="229.9" cy="52.3" r="1.50"/>
<circle cx="231.9" cy="52.0" r="1.50"/>
<circle cx="234.8" cy="52.3" r="1.50"/>
<circle cx="226.7" cy="54.3" r="1.50"/>
<circle cx="230.9" cy="54.4" r="1.50"/>
<circle cx="233.5" cy="54.2" r="1.50"/>
<circle cx="235.6" cy="54.2" r="1.50"/>
<circle cx="225.1" cy="56.5" r="1.50"/>
<circle cx="227.9" cy="56.4" r="1.50"/>
<circle cx="230.1" cy="56.1" r="1.50"/>
<circle cx="232.2" cy="56.1" r="1.50"/>
<circle cx="234.5" cy="56.2" r="1.50"/>
<circle cx="236.9" cy="56.2" r="1.50"/>
<circle cx="226.5" cy="58.2" r="1.50"/>
<circle cx="228.6" cy="58.3" r="1.50"/>
<circle cx="231.2" cy="58.7" r="1.50"/>
<circle cx="233.5" cy="58.7" r="1.50"/>
<circle cx="235.5" cy="58.6" r="1.50"/>
<circle cx="225.4" cy="60.3" r="1.50"/>
<circle cx="227.9" cy="60.7" r="1.50"/>
<circle cx="229.8" cy="60.7" r="1.50"/>
<circle cx="232.4" cy="60.3" r="1.50"/>
<circle cx="237.0" cy="60.3" r="1.50"/>
<circle cx="226.5" cy="62.7" r="1.50"/>
<circle cx="228.9" cy="62.5" r="1.50"/>
<circle cx="230.9" cy="62.7" r="1.50"/>
<circle cx="233.2" cy="62.3" r="1.50"/>
<circle cx="235.7" cy="62.6" r="1.50"/>
<circle cx="225.3" cy="64.6" r="1.50"/>
<circle cx="227.3" cy="65.0" r="1.50"/>
<circle cx="229.8" cy="64.6" r="1.50"/>
<circle cx="232.0" cy="64.7" r="1.50"/>
<circle cx="234.7" cy="64.4" r="1.50"/>
<circle cx="236.8" cy="65.0" r="1.50"/>
<circle cx="226.5" cy="66.9" r="1.50"/>
<circle cx="228.5" cy="66.8" r="1.50"/>
<circle cx="233.2" cy="66.9" r="1.50"/>
<circle cx="235.5" cy="66.9" r="1.50"/>
<circle cx="225.2" cy="68.8" r="1.50"/>
<circle cx="227.5" cy="68.6" r="1.50"/>
<circle cx="229.7" cy="69.1" r="1.50"/>
<circle cx="231.9" cy="69.1" r="1.50"/>
<circle cx="234.5" cy="68.9" r="1.50"/>
<circle cx="236.7" cy="68.9" r="1.50"/>
<circle cx="226.7" cy="70.8" r="1.50"/>
<circle cx="228.6" cy="70.9" r="1.50"/>
<circle cx="230.8" cy="70.8" r="1.50"/>
<circle cx="233.3" cy="71.2" r="1.50"/>
<circle cx="225.4" cy="72.9" r="1.50"/>
<circle cx="227.5" cy="73.3" r="1.50"/>
<circle cx="229.7" cy="72.8" r="1.50"/>
<circle cx="232.5" cy="72.9" r="1.50"/>
<circle cx="234.5" cy="73.0" r="1.50"/>
<circle cx="236.7" cy="73.2" r="1.50"/>
<circle cx="225.5" cy="76.6" r="1.50"/>
<circle cx="225.4" cy="77.6" r="1.50"/>
<circle cx="225.5" cy="78.6" r="1.50"/>
<circle cx="225.4" cy="79.6" r="1.50"/>
<circle cx="225.2" cy="80.6" r="1.50"/>
<circle cx="225.2" cy="81.6" r="1.50"/>
<circle cx="225.0" cy="82.6" r="1.50"/>
<circle cx="225.2" cy="85.7" r="1.50"/>
<circle cx="225.4" cy="87.2" r="1.50"/>
<circle cx="228.0" cy="77.7" r="1.50"/>
<circle cx="228.0" cy="78.7" r="1.50"/>
<circle cx="228.3" cy="79.7" r="1.50"/>
<circle cx="228.0" cy="80.7" r="1.50"/>
<circle cx="228.4" cy="81.7" r="1.50"/>
<circle cx="228.4" cy="83.6" r="1.50"/>
<circle cx="228.0" cy="84.6" r="1.50"/>
<circle cx="228.1" cy="85.6" r="1.50"/>
<circle cx="228.2" cy="86.6" r="1.50"/>
<circle cx="228.0" cy="87.6" r="1.50"/>
<circle cx="228.1" cy="88.6" r="1.50"/>
<circle cx="228.1" cy="89.6" r="1.50"/>
<circle cx="228.2" cy="90.6" r="1.50"/>
<circle cx="231.1" cy="75.8" r="1.50"/>
<circle cx="230.8" cy="76.8" r="1.50"/>
<circle cx="231.3" cy="77.8" r="1.50"/>
<circle cx="231.0" cy="78.8" r="1.50"/>
<circle cx="231.0" cy="81.4" r="1.50"/>
<circle cx="231.3" cy="85.1" r="1.50"/>
<circle cx="231.1" cy="86.1" r="1.50"/>
<circle cx="231.0" cy="87.1" r="1.50"/>
<circle cx="234.1" cy="83.2" r="1.50"/>
<circle cx="233.8" cy="84.2" r="1.50"/>
<circle cx="233.8" cy="85.2" r="1.50"/>
<circle cx="233.7" cy="86.2" r="1.50"/>
<circle cx="234.1" cy="87.2" r="1.50"/>
<circle cx="236.7" cy="76.4" r="1.50"/>
<circle cx="236.8" cy="77.4" r="1.50"/>
<circle cx="236.8" cy="78.4" r="1.50"/>
<circle cx="236.9" cy="79.4" r="1.50"/>
<circle cx="237.0" cy="80.4" r="1.50"/>
<circle cx="236.9" cy="81.4" r="1.50"/>
<circle cx="237.0" cy="82.4" r="1.50"/>
<circle cx="236.7" cy="83.4" r="1.50"/>
<circle cx="237.0" cy="84.4" r="1.50"/>
<circle cx="236.7" cy="85.4" r="1.50"/>
<circle cx="237.1" cy="86.7" r="1.50"/>
<circle cx="237.0" cy="87.7" r="1.50"/>
<circle cx="242.2" cy="56.6" r="1.50"/>
<circle cx="245.3" cy="55.9" r="1.50"/>
<circle cx="245.3" cy="58.9" r="1.50"/>
<circle cx="245.5" cy="89.3" r="1.50"/>
<circle cx="242.1" cy="61.7" r="1.50"/>
<circle cx="242.2" cy="62.7" r="1.50"/>
<circle cx="242.0" cy="63.7" r="1.50"/>
<circle cx="242.1" cy="64.7" r="1.50"/>
<circle cx="242.5" cy="80.9" r="1.50"/>
<circle cx="242.2" cy="81.9" r="1.50"/>
<circle cx="242.3" cy="86.7" r="1.50"/>
<circle cx="242.0" cy="87.7" r="1.50"/>
<circle cx="245.3" cy="62.2" r="1.50"/>
<circle cx="245.1" cy="66.0" r="1.50"/>
<circle cx="245.1" cy="68.0" r="1.50"/>
<circle cx="244.9" cy="69.0" r="1.50"/>
<circle cx="245.3" cy="70.0" r="1.50"/>
<circle cx="244.9" cy="71.0" r="1.50"/>
<circle cx="245.0" cy="72.0" r="1.50"/>
<circle cx="244.9" cy="73.0" r="1.50"/>
<circle cx="245.2" cy="79.4" r="1.50"/>
<circle cx="245.2" cy="80.8" r="1.50"/>
<circle cx="245.2" cy="81.8" r="1.50"/>
<circle cx="245.1" cy="82.8" r="1.50"/>
<circle cx="245.2" cy="86.5" r="1.50"/>
<circle cx="244.9" cy="87.5" r="1.50"/>
<circle cx="248.3" cy="60.9" r="1.50"/>
<circle cx="247.8" cy="61.9" r="1.50"/>
<circle cx="247.9" cy="62.9" r="1.50"/>
<circle cx="248.1" cy="63.9" r="1.50"/>
<circle cx="248.1" cy="64.9" r="1.50"/>
<circle cx="247.8" cy="65.9" r="1.50"/>
<circle cx="248.1" cy="66.9" r="1.50"/>
<circle cx="248.3" cy="67.9" r="1.50"/>
<circle cx="248.1" cy="71.1" r="1.50"/>
<circle cx="248.3" cy="72.1" r="1.50"/>
<circle cx="247.9" cy="74.3" r="1.50"/>
<circle cx="248.1" cy="75.3" r="1.50"/>
<circle cx="248.0" cy="78.9" r="1.50"/>
<circle cx="247.8" cy="79.9" r="1.50"/>
<circle cx="248.1" cy="82.4" r="1.50"/>
<circle cx="247.9" cy="83.4" r="1.50"/>
<circle cx="248.3" cy="84.4" r="1.50"/>
<circle cx="248.0" cy="85.4" r="1.50"/>
<circle cx="247.9" cy="86.4" r="1.50"/>
<circle cx="247.8" cy="87.4" r="1.50"/>
<circle cx="259.3" cy="41.4" r="1.50"/>
<circle cx="256.3" cy="57.0" r="1.50"/>
<circle cx="259.3" cy="57.0" r="1.50"/>
<circle cx="261.6" cy="58.2" r="1.50"/>
<circle cx="253.7" cy="92.2" r="1.50"/>
<circle cx="255.9" cy="93.8" r="1.50"/>
<circle cx="259.2" cy="94.1" r="1.50"/>
<circle cx="262.3" cy="93.8" r="1.50"/>
<circle cx="265.0" cy="92.5" r="1.50"/>
<circle cx="253.6" cy="62.3" r="1.50"/>
<circle cx="253.3" cy="63.3" r="1.50"/>
<circle cx="253.3" cy="64.3" r="1.50"/>
<circle cx="253.5" cy="65.3" r="1.50"/>
<circle cx="253.3" cy="66.3" r="1.50"/>
<circle cx="253.3" cy="67.3" r="1.50"/>
<circle cx="253.3" cy="68.3" r="1.50"/>
<circle cx="253.6" cy="69.3" r="1.50"/>
<circle cx="253.6" cy="70.3" r="1.50"/>
<circle cx="253.5" cy="71.3" r="1.50"/>
<circle cx="253.3" cy="72.3" r="1.50"/>
<circle cx="253.6" cy="73.3" r="1.50"/>
<circle cx="253.4" cy="74.3" r="1.50"/>
<circle cx="253.3" cy="75.3" r="1.50"/>
<circle cx="253.4" cy="76.3" r="1.50"/>
<circle cx="253.4" cy="77.3" r="1.50"/>
<circle cx="253.3" cy="78.5" r="1.50"/>
<circle cx="253.4" cy="79.5" r="1.50"/>
<circle cx="253.6" cy="80.5" r="1.50"/>
<circle cx="253.5" cy="81.5" r="1.50"/>
<circle cx="256.5" cy="71.5" r="1.50"/>
<circle cx="256.1" cy="72.5" r="1.50"/>
<circle cx="256.1" cy="73.5" r="1.50"/>
<circle cx="256.1" cy="74.5" r="1.50"/>
<circle cx="256.5" cy="75.5" r="1.50"/>
<circle cx="256.4" cy="76.5" r="1.50"/>
<circle cx="256.3" cy="80.0" r="1.50"/>
<circle cx="256.5" cy="81.0" r="1.50"/>
<circle cx="259.2" cy="60.2" r="1.50"/>
<circle cx="259.2" cy="64.9" r="1.50"/>
<circle cx="259.2" cy="65.9" r="1.50"/>
<circle cx="259.0" cy="66.9" r="1.50"/>
<circle cx="259.4" cy="67.9" r="1.50"/>
<circle cx="259.1" cy="68.9" r="1.50"/>
<circle cx="259.1" cy="69.9" r="1.50"/>
<circle cx="259.1" cy="70.9" r="1.50"/>
<circle cx="259.4" cy="75.4" r="1.50"/>
<circle cx="259.1" cy="76.4" r="1.50"/>
<circle cx="259.2" cy="77.4" r="1.50"/>
<circle cx="259.0" cy="78.4" r="1.50"/>
<circle cx="262.1" cy="61.6" r="1.50"/>
<circle cx="262.3" cy="63.5" r="1.50"/>
<circle cx="262.2" cy="64.5" r="1.50"/>
<circle cx="262.0" cy="65.5" r="1.50"/>
<circle cx="261.9" cy="66.5" r="1.50"/>
<circle cx="262.3" cy="67.5" r="1.50"/>
<circle cx="262.3" cy="68.5" r="1.50"/>
<circle cx="261.9" cy="69.5" r="1.50"/>
<circle cx="262.1" cy="70.5" r="1.50"/>
<circle cx="262.1" cy="71.5" r="1.50"/>
<circle cx="262.3" cy="72.5" r="1.50"/>
<circle cx="261.9" cy="73.5" r="1.50"/>
<circle cx="261.9" cy="74.5" r="1.50"/>
<circle cx="262.3" cy="75.5" r="1.50"/>
<circle cx="262.1" cy="76.5" r="1.50"/>
<circle cx="262.1" cy="77.5" r="1.50"/>
<circle cx="262.2" cy="81.5" r="1.50"/>
<circle cx="264.9" cy="60.5" r="1.50"/>
<circle cx="264.9" cy="63.6" r="1.50"/>
<circle cx="265.1" cy="64.6" r="1.50"/>
<circle cx="265.1" cy="65.6" r="1.50"/>
<circle cx="265.0" cy="66.6" r="1.50"/>
<circle cx="265.2" cy="68.3" r="1.50"/>
<circle cx="265.2" cy="69.3" r="1.50"/>
<circle cx="265.2" cy="70.3" r="1.50"/>
<circle cx="264.8" cy="71.3" r="1.50"/>
<circle cx="265.1" cy="72.3" r="1.50"/>
<circle cx="264.9" cy="73.3" r="1.50"/>
<circle cx="264.9" cy="74.3" r="1.50"/>
<circle cx="265.0" cy="75.3" r="1.50"/>
<circle cx="264.8" cy="76.3" r="1.50"/>
<circle cx="264.9" cy="77.3" r="1.50"/>
<circle cx="265.2" cy="78.3" r="1.50"/>
<circle cx="264.9" cy="79.3" r="1.50"/>
<circle cx="265.2" cy="80.3" r="1.50"/>
<circle cx="265.1" cy="81.3" r="1.50"/>
<circle cx="253.2" cy="88.3" r="1.50"/>
<circle cx="256.0" cy="88.0" r="1.50"/>
<circle cx="259.0" cy="88.1" r="1.50"/>
<circle cx="273.3" cy="62.4" r="1.50"/>
<circle cx="273.2" cy="90.5" r="1.50"/>
<circle cx="267.7" cy="62.3" r="1.50"/>
<circle cx="267.3" cy="63.3" r="1.50"/>
<circle cx="267.7" cy="64.3" r="1.50"/>
<circle cx="267.6" cy="65.3" r="1.50"/>
<circle cx="267.5" cy="66.3" r="1.50"/>
<circle cx="267.2" cy="67.3" r="1.50"/>
<circle cx="267.4" cy="68.3" r="1.50"/>
<circle cx="267.5" cy="69.3" r="1.50"/>
<circle cx="267.4" cy="70.3" r="1.50"/>
<circle cx="267.3" cy="71.3" r="1.50"/>
<circle cx="267.4" cy="72.3" r="1.50"/>
<circle cx="267.4" cy="74.0" r="1.50"/>
<circle cx="267.4" cy="75.0" r="1.50"/>
<circle cx="267.5" cy="76.0" r="1.50"/>
<circle cx="267.7" cy="77.0" r="1.50"/>
<circle cx="267.4" cy="78.0" r="1.50"/>
<circle cx="267.2" cy="79.0" r="1.50"/>
<circle cx="267.7" cy="80.0" r="1.50"/>
<circle cx="267.6" cy="81.0" r="1.50"/>
<circle cx="267.6" cy="82.0" r="1.50"/>
<circle cx="270.3" cy="62.3" r="1.50"/>
<circle cx="270.3" cy="63.3" r="1.50"/>
<circle cx="270.5" cy="64.5" r="1.50"/>
<circle cx="270.1" cy="65.5" r="1.50"/>
<circle cx="270.5" cy="66.5" r="1.50"/>
<circle cx="270.4" cy="67.5" r="1.50"/>
<circle cx="270.6" cy="68.5" r="1.50"/>
<circle cx="270.3" cy="69.5" r="1.50"/>
<circle cx="270.5" cy="70.5" r="1.50"/>
<circle cx="270.3" cy="71.5" r="1.50"/>
<circle cx="270.4" cy="72.5" r="1.50"/>
<circle cx="270.2" cy="75.2" r="1.50"/>
<circle cx="270.3" cy="76.9" r="1.50"/>
<circle cx="270.4" cy="77.9" r="1.50"/>
<circle cx="270.4" cy="78.9" r="1.50"/>
<circle cx="270.3" cy="79.9" r="1.50"/>
<circle cx="270.6" cy="81.8" r="1.50"/>
<circle cx="270.5" cy="82.8" r="1.50"/>
<circle cx="273.1" cy="63.3" r="1.50"/>
<circle cx="273.3" cy="64.6" r="1.50"/>
<circle cx="273.4" cy="71.9" r="1.50"/>
<circle cx="273.1" cy="79.9" r="1.50"/>
<circle cx="273.3" cy="80.9" r="1.50"/>
<circle cx="273.1" cy="81.9" r="1.50"/>
<circle cx="273.1" cy="82.9" r="1.50"/>
<circle cx="276.0" cy="61.0" r="1.50"/>
<circle cx="276.0" cy="62.0" r="1.50"/>
<circle cx="276.1" cy="63.0" r="1.50"/>
<circle cx="275.9" cy="64.0" r="1.50"/>
<circle cx="276.1" cy="65.0" r="1.50"/>
<circle cx="276.3" cy="66.0" r="1.50"/>
<circle cx="276.1" cy="67.0" r="1.50"/>
<circle cx="275.9" cy="68.0" r="1.50"/>
<circle cx="275.9" cy="69.0" r="1.50"/>
<circle cx="276.0" cy="70.0" r="1.50"/>
<circle cx="276.2" cy="71.0" r="1.50"/>
<circle cx="276.4" cy="72.0" r="1.50"/>
<circle cx="276.2" cy="73.0" r="1.50"/>
<circle cx="276.0" cy="74.0" r="1.50"/>
<circle cx="276.0" cy="75.0" r="1.50"/>
<circle cx="276.1" cy="76.0" r="1.50"/>
<circle cx="276.0" cy="77.0" r="1.50"/>
<circle cx="276.0" cy="78.0" r="1.50"/>
<circle cx="276.0" cy="80.5" r="1.50"/>
<circle cx="276.4" cy="81.5" r="1.50"/>
<circle cx="276.3" cy="82.5" r="1.50"/>
<circle cx="279.1" cy="62.1" r="1.50"/>
<circle cx="279.2" cy="63.1" r="1.50"/>
<circle cx="279.0" cy="69.0" r="1.50"/>
<circle cx="278.8" cy="70.0" r="1.50"/>
<circle cx="278.9" cy="71.9" r="1.50"/>
<circle cx="278.8" cy="72.9" r="1.50"/>
<circle cx="279.3" cy="73.9" r="1.50"/>
<circle cx="279.1" cy="75.8" r="1.50"/>
<circle cx="279.0" cy="76.8" r="1.50"/>
<circle cx="279.1" cy="77.8" r="1.50"/>
<circle cx="279.1" cy="78.8" r="1.50"/>
<circle cx="279.1" cy="79.8" r="1.50"/>
<circle cx="279.1" cy="81.0" r="1.50"/>
<circle cx="279.2" cy="82.0" r="1.50"/>
<circle cx="267.5" cy="84.0" r="1.50"/>
<circle cx="273.4" cy="84.3" r="1.50"/>
<circle cx="276.3" cy="84.3" r="1.50"/>
<circle cx="272.0" cy="86.4" r="1.50"/>
<circle cx="274.5" cy="86.5" r="1.50"/>
<circle cx="277.7" cy="86.3" r="1.50"/>
<circle cx="273.3" cy="88.8" r="1.50"/>
<circle cx="287.3" cy="43.0" r="1.50"/>
<circle cx="287.3" cy="45.2" r="1.50"/>
<circle cx="287.3" cy="48.5" r="1.50"/>
<circle cx="287.3" cy="51.2" r="1.50"/>
<circle cx="287.3" cy="54.3" r="1.50"/>
<circle cx="283.6" cy="57.0" r="1.50"/>
<circle cx="291.3" cy="57.8" r="1.50"/>
<circle cx="287.5" cy="91.1" r="1.50"/>
<circle cx="281.4" cy="57.5" r="1.50"/>
<circle cx="281.7" cy="58.5" r="1.50"/>
<circle cx="281.7" cy="59.5" r="1.50"/>
<circle cx="281.5" cy="60.5" r="1.50"/>
<circle cx="281.8" cy="61.5" r="1.50"/>
<circle cx="281.7" cy="62.6" r="1.50"/>
<circle cx="281.3" cy="63.6" r="1.50"/>
<circle cx="281.6" cy="64.6" r="1.50"/>
<circle cx="281.5" cy="65.6" r="1.50"/>
<circle cx="281.7" cy="66.6" r="1.50"/>
<circle cx="281.4" cy="67.6" r="1.50"/>
<circle cx="281.5" cy="68.6" r="1.50"/>
<circle cx="281.7" cy="69.6" r="1.50"/>
<circle cx="281.6" cy="70.6" r="1.50"/>
<circle cx="281.4" cy="71.6" r="1.50"/>
<circle cx="281.3" cy="72.6" r="1.50"/>
<circle cx="281.7" cy="73.6" r="1.50"/>
<circle cx="281.5" cy="74.6" r="1.50"/>
<circle cx="281.8" cy="75.6" r="1.50"/>
<circle cx="281.7" cy="76.9" r="1.50"/>
<circle cx="281.7" cy="77.9" r="1.50"/>
<circle cx="281.3" cy="78.9" r="1.50"/>
<circle cx="281.5" cy="79.9" r="1.50"/>
<circle cx="281.3" cy="80.9" r="1.50"/>
<circle cx="281.6" cy="81.9" r="1.50"/>
<circle cx="284.6" cy="56.6" r="1.50"/>
<circle cx="284.3" cy="57.6" r="1.50"/>
<circle cx="284.4" cy="58.6" r="1.50"/>
<circle cx="284.6" cy="59.6" r="1.50"/>
<circle cx="284.4" cy="60.6" r="1.50"/>
<circle cx="284.3" cy="61.6" r="1.50"/>
<circle cx="284.3" cy="62.6" r="1.50"/>
<circle cx="284.6" cy="63.6" r="1.50"/>
<circle cx="284.3" cy="64.6" r="1.50"/>
<circle cx="284.5" cy="65.6" r="1.50"/>
<circle cx="284.4" cy="66.6" r="1.50"/>
<circle cx="284.4" cy="67.6" r="1.50"/>
<circle cx="284.6" cy="68.9" r="1.50"/>
<circle cx="284.3" cy="69.9" r="1.50"/>
<circle cx="284.3" cy="70.9" r="1.50"/>
<circle cx="284.6" cy="71.9" r="1.50"/>
<circle cx="284.5" cy="72.9" r="1.50"/>
<circle cx="284.3" cy="73.9" r="1.50"/>
<circle cx="284.2" cy="74.9" r="1.50"/>
<circle cx="284.5" cy="75.9" r="1.50"/>
<circle cx="284.3" cy="76.9" r="1.50"/>
<circle cx="284.5" cy="79.2" r="1.50"/>
<circle cx="284.5" cy="80.2" r="1.50"/>
<circle cx="284.3" cy="81.2" r="1.50"/>
<circle cx="287.4" cy="60.0" r="1.50"/>
<circle cx="287.4" cy="63.3" r="1.50"/>
<circle cx="287.5" cy="64.3" r="1.50"/>
<circle cx="287.4" cy="65.3" r="1.50"/>
<circle cx="287.3" cy="66.3" r="1.50"/>
<circle cx="287.2" cy="67.3" r="1.50"/>
<circle cx="287.1" cy="68.9" r="1.50"/>
<circle cx="287.2" cy="69.9" r="1.50"/>
<circle cx="287.5" cy="74.6" r="1.50"/>
<circle cx="287.5" cy="75.6" r="1.50"/>
<circle cx="287.5" cy="76.6" r="1.50"/>
<circle cx="287.1" cy="77.6" r="1.50"/>
<circle cx="287.5" cy="78.6" r="1.50"/>
<circle cx="287.1" cy="79.6" r="1.50"/>
<circle cx="287.5" cy="80.6" r="1.50"/>
<circle cx="290.0" cy="56.3" r="1.50"/>
<circle cx="290.2" cy="59.3" r="1.50"/>
<circle cx="290.1" cy="60.3" r="1.50"/>
<circle cx="290.1" cy="61.3" r="1.50"/>
<circle cx="290.2" cy="63.0" r="1.50"/>
<circle cx="290.2" cy="64.0" r="1.50"/>
<circle cx="290.2" cy="65.0" r="1.50"/>
<circle cx="290.2" cy="66.0" r="1.50"/>
<circle cx="290.2" cy="67.0" r="1.50"/>
<circle cx="290.2" cy="68.0" r="1.50"/>
<circle cx="290.5" cy="69.0" r="1.50"/>
<circle cx="290.3" cy="70.0" r="1.50"/>
<circle cx="290.1" cy="71.0" r="1.50"/>
<circle cx="290.1" cy="72.0" r="1.50"/>
<circle cx="290.1" cy="73.0" r="1.50"/>
<circle cx="290.3" cy="74.9" r="1.50"/>
<circle cx="290.4" cy="77.6" r="1.50"/>
<circle cx="290.1" cy="78.6" r="1.50"/>
<circle cx="290.3" cy="79.6" r="1.50"/>
<circle cx="290.4" cy="80.6" r="1.50"/>
<circle cx="290.2" cy="81.6" r="1.50"/>
<circle cx="293.2" cy="57.2" r="1.50"/>
<circle cx="293.0" cy="58.2" r="1.50"/>
<circle cx="293.0" cy="59.2" r="1.50"/>
<circle cx="293.2" cy="60.2" r="1.50"/>
<circle cx="293.1" cy="61.2" r="1.50"/>
<circle cx="293.1" cy="62.2" r="1.50"/>
<circle cx="293.0" cy="63.2" r="1.50"/>
<circle cx="293.2" cy="64.2" r="1.50"/>
<circle cx="293.2" cy="65.2" r="1.50"/>
<circle cx="293.3" cy="66.2" r="1.50"/>
<circle cx="293.1" cy="67.2" r="1.50"/>
<circle cx="293.1" cy="68.2" r="1.50"/>
<circle cx="293.1" cy="69.2" r="1.50"/>
<circle cx="293.1" cy="70.2" r="1.50"/>
<circle cx="293.1" cy="71.2" r="1.50"/>
<circle cx="292.9" cy="72.2" r="1.50"/>
<circle cx="293.0" cy="73.2" r="1.50"/>
<circle cx="293.4" cy="74.2" r="1.50"/>
<circle cx="293.3" cy="75.2" r="1.50"/>
<circle cx="293.1" cy="76.2" r="1.50"/>
<circle cx="293.2" cy="77.2" r="1.50"/>
<circle cx="293.0" cy="78.2" r="1.50"/>
<circle cx="293.0" cy="79.2" r="1.50"/>
<circle cx="293.1" cy="80.2" r="1.50"/>
<circle cx="293.2" cy="81.2" r="1.50"/>
<circle cx="283.2" cy="85.7" r="1.50"/>
<circle cx="301.1" cy="51.2" r="1.50"/>
<circle cx="301.1" cy="54.0" r="1.50"/>
<circle cx="304.6" cy="58.2" r="1.50"/>
<circle cx="301.4" cy="79.0" r="1.50"/>
<circle cx="304.4" cy="77.3" r="1.50"/>
<circle cx="307.0" cy="76.2" r="1.50"/>
<circle cx="296.0" cy="80.0" r="1.50"/>
<circle cx="295.8" cy="58.8" r="1.50"/>
<circle cx="295.8" cy="59.8" r="1.50"/>
<circle cx="295.4" cy="60.8" r="1.50"/>
<circle cx="295.4" cy="61.8" r="1.50"/>
<circle cx="295.7" cy="62.8" r="1.50"/>
<circle cx="295.6" cy="63.8" r="1.50"/>
<circle cx="295.4" cy="64.8" r="1.50"/>
<circle cx="295.7" cy="65.8" r="1.50"/>
<circle cx="295.4" cy="72.0" r="1.50"/>
<circle cx="295.5" cy="73.0" r="1.50"/>
<circle cx="295.3" cy="74.0" r="1.50"/>
<circle cx="295.8" cy="75.0" r="1.50"/>
<circle cx="295.4" cy="76.0" r="1.50"/>
<circle cx="295.7" cy="77.0" r="1.50"/>
<circle cx="295.6" cy="78.0" r="1.50"/>
<circle cx="295.6" cy="79.0" r="1.50"/>
<circle cx="295.6" cy="80.0" r="1.50"/>
<circle cx="295.7" cy="81.0" r="1.50"/>
<circle cx="298.5" cy="57.5" r="1.50"/>
<circle cx="298.6" cy="64.9" r="1.50"/>
<circle cx="298.3" cy="68.4" r="1.50"/>
<circle cx="298.6" cy="69.4" r="1.50"/>
<circle cx="298.5" cy="71.8" r="1.50"/>
<circle cx="298.3" cy="72.8" r="1.50"/>
<circle cx="298.6" cy="73.8" r="1.50"/>
<circle cx="298.5" cy="74.8" r="1.50"/>
<circle cx="298.6" cy="77.7" r="1.50"/>
<circle cx="298.6" cy="78.7" r="1.50"/>
<circle cx="298.5" cy="79.7" r="1.50"/>
<circle cx="298.3" cy="81.0" r="1.50"/>
<circle cx="301.2" cy="56.2" r="1.50"/>
<circle cx="301.6" cy="57.2" r="1.50"/>
<circle cx="301.4" cy="58.2" r="1.50"/>
<circle cx="301.5" cy="59.2" r="1.50"/>
<circle cx="301.5" cy="60.2" r="1.50"/>
<circle cx="301.6" cy="64.1" r="1.50"/>
<circle cx="301.2" cy="65.1" r="1.50"/>
<circle cx="301.5" cy="66.1" r="1.50"/>
<circle cx="301.6" cy="67.1" r="1.50"/>
<circle cx="301.4" cy="68.1" r="1.50"/>
<circle cx="301.3" cy="73.3" r="1.50"/>
<circle cx="301.3" cy="74.3" r="1.50"/>
<circle cx="301.2" cy="76.6" r="1.50"/>
<circle cx="301.3" cy="77.6" r="1.50"/>
<circle cx="301.6" cy="78.6" r="1.50"/>
<circle cx="301.3" cy="79.6" r="1.50"/>
<circle cx="301.2" cy="80.6" r="1.50"/>
<circle cx="304.3" cy="58.5" r="1.50"/>
<circle cx="304.4" cy="59.9" r="1.50"/>
<circle cx="304.4" cy="60.9" r="1.50"/>
<circle cx="304.3" cy="63.3" r="1.50"/>
<circle cx="304.3" cy="64.3" r="1.50"/>
<circle cx="304.1" cy="65.3" r="1.50"/>
<circle cx="304.4" cy="66.3" r="1.50"/>
<circle cx="304.4" cy="67.3" r="1.50"/>
<circle cx="304.3" cy="69.6" r="1.50"/>
<circle cx="304.3" cy="70.6" r="1.50"/>
<circle cx="304.2" cy="71.6" r="1.50"/>
<circle cx="304.5" cy="72.6" r="1.50"/>
<circle cx="304.1" cy="79.5" r="1.50"/>
<circle cx="307.3" cy="59.3" r="1.50"/>
<circle cx="307.3" cy="66.9" r="1.50"/>
<circle cx="307.4" cy="67.9" r="1.50"/>
<circle cx="307.2" cy="68.9" r="1.50"/>
<circle cx="307.4" cy="69.9" r="1.50"/>
<circle cx="307.1" cy="70.9" r="1.50"/>
<circle cx="307.0" cy="71.9" r="1.50"/>
<circle cx="307.3" cy="72.9" r="1.50"/>
<circle cx="307.3" cy="73.9" r="1.50"/>
<circle cx="307.3" cy="74.9" r="1.50"/>
<circle cx="307.2" cy="76.3" r="1.50"/>
<circle cx="307.0" cy="77.3" r="1.50"/>
<circle cx="307.1" cy="78.3" r="1.50"/>
<circle cx="315.4" cy="51.9" r="1.50"/>
<circle cx="313.0" cy="55.2" r="1.50"/>
<circle cx="311.2" cy="58.2" r="1.50"/>
<circle cx="312.7" cy="78.5" r="1.50"/>
<circle cx="315.5" cy="81.2" r="1.50"/>
<circle cx="312.4" cy="84.4" r="1.50"/>
<circle cx="315.5" cy="87.9" r="1.50"/>
<circle cx="315.5" cy="102.7" r="1.50"/>
<circle cx="309.5" cy="56.6" r="1.50"/>
<circle cx="309.4" cy="58.4" r="1.50"/>
<circle cx="309.6" cy="59.4" r="1.50"/>
<circle cx="309.5" cy="60.4" r="1.50"/>
<circle cx="309.4" cy="63.1" r="1.50"/>
<circle cx="309.5" cy="64.1" r="1.50"/>
<circle cx="309.8" cy="66.6" r="1.50"/>
<circle cx="309.8" cy="67.6" r="1.50"/>
<circle cx="309.6" cy="68.6" r="1.50"/>
<circle cx="309.4" cy="69.6" r="1.50"/>
<circle cx="309.6" cy="73.2" r="1.50"/>
<circle cx="309.7" cy="74.2" r="1.50"/>
<circle cx="309.5" cy="75.2" r="1.50"/>
<circle cx="309.8" cy="76.2" r="1.50"/>
<circle cx="312.6" cy="61.8" r="1.50"/>
<circle cx="312.7" cy="62.8" r="1.50"/>
<circle cx="312.4" cy="67.1" r="1.50"/>
<circle cx="312.6" cy="68.1" r="1.50"/>
<circle cx="312.3" cy="69.1" r="1.50"/>
<circle cx="312.6" cy="70.1" r="1.50"/>
<circle cx="312.5" cy="71.1" r="1.50"/>
<circle cx="312.3" cy="72.1" r="1.50"/>
<circle cx="312.5" cy="73.1" r="1.50"/>
<circle cx="312.5" cy="74.1" r="1.50"/>
<circle cx="312.5" cy="75.1" r="1.50"/>
<circle cx="315.4" cy="56.3" r="1.50"/>
<circle cx="315.3" cy="57.5" r="1.50"/>
<circle cx="315.3" cy="58.5" r="1.50"/>
<circle cx="315.3" cy="59.5" r="1.50"/>
<circle cx="315.4" cy="60.5" r="1.50"/>
<circle cx="315.6" cy="61.5" r="1.50"/>
<circle cx="315.4" cy="62.5" r="1.50"/>
<circle cx="315.3" cy="63.5" r="1.50"/>
<circle cx="315.5" cy="64.5" r="1.50"/>
<circle cx="315.2" cy="65.5" r="1.50"/>
<circle cx="315.6" cy="67.0" r="1.50"/>
<circle cx="315.2" cy="68.0" r="1.50"/>
<circle cx="315.2" cy="69.0" r="1.50"/>
<circle cx="315.4" cy="70.0" r="1.50"/>
<circle cx="315.5" cy="71.0" r="1.50"/>
<circle cx="315.2" cy="72.0" r="1.50"/>
<circle cx="315.4" cy="73.0" r="1.50"/>
<circle cx="315.3" cy="74.0" r="1.50"/>
<circle cx="315.2" cy="75.0" r="1.50"/>
<circle cx="315.4" cy="76.4" r="1.50"/>
<circle cx="318.4" cy="54.2" r="1.50"/>
<circle cx="318.1" cy="55.2" r="1.50"/>
<circle cx="318.4" cy="56.2" r="1.50"/>
<circle cx="318.4" cy="57.2" r="1.50"/>
<circle cx="318.1" cy="58.2" r="1.50"/>
<circle cx="318.3" cy="59.2" r="1.50"/>
<circle cx="318.4" cy="60.2" r="1.50"/>
<circle cx="318.6" cy="61.2" r="1.50"/>
<circle cx="318.6" cy="62.2" r="1.50"/>
<circle cx="318.4" cy="63.2" r="1.50"/>
<circle cx="318.4" cy="64.2" r="1.50"/>
<circle cx="318.6" cy="65.2" r="1.50"/>
<circle cx="318.2" cy="66.2" r="1.50"/>
<circle cx="318.3" cy="67.2" r="1.50"/>
<circle cx="318.1" cy="68.2" r="1.50"/>
<circle cx="318.2" cy="72.2" r="1.50"/>
<circle cx="318.2" cy="73.2" r="1.50"/>
<circle cx="318.4" cy="74.2" r="1.50"/>
<circle cx="318.5" cy="75.2" r="1.50"/>
<circle cx="318.2" cy="76.2" r="1.50"/>
<circle cx="321.4" cy="56.6" r="1.50"/>
<circle cx="321.3" cy="60.2" r="1.50"/>
<circle cx="321.3" cy="61.2" r="1.50"/>
<circle cx="321.1" cy="62.2" r="1.50"/>
<circle cx="321.2" cy="63.2" r="1.50"/>
<circle cx="321.2" cy="64.2" r="1.50"/>
<circle cx="321.2" cy="65.2" r="1.50"/>
<circle cx="321.0" cy="66.2" r="1.50"/>
<circle cx="321.4" cy="67.2" r="1.50"/>
<circle cx="321.1" cy="68.2" r="1.50"/>
<circle cx="321.2" cy="69.2" r="1.50"/>
<circle cx="321.5" cy="70.2" r="1.50"/>
<circle cx="321.2" cy="71.2" r="1.50"/>
<circle cx="321.4" cy="72.2" r="1.50"/>
<circle cx="321.1" cy="73.2" r="1.50"/>
<circle cx="321.2" cy="74.2" r="1.50"/>
<circle cx="321.2" cy="75.2" r="1.50"/>
<circle cx="321.2" cy="76.2" r="1.50"/>
<circle cx="329.4" cy="43.7" r="1.50"/>
<circle cx="324.6" cy="46.0" r="1.50"/>
<circle cx="334.5" cy="46.3" r="1.50"/>
<circle cx="324.7" cy="81.2" r="1.50"/>
<circle cx="327.4" cy="83.0" r="1.50"/>
<circle cx="330.0" cy="86.8" r="1.50"/>
<circle cx="332.6" cy="83.0" r="1.50"/>
<circle cx="335.3" cy="81.5" r="1.50"/>
<circle cx="328.2" cy="77.6" r="1.50"/>
<circle cx="329.6" cy="107.6" r="1.50"/>
<circle cx="325.0" cy="47.2" r="1.50"/>
<circle cx="327.1" cy="47.1" r="1.50"/>
<circle cx="329.7" cy="47.0" r="1.50"/>
<circle cx="331.7" cy="47.3" r="1.50"/>
<circle cx="334.0" cy="47.3" r="1.50"/>
<circle cx="323.6" cy="49.0" r="1.50"/>
<circle cx="326.0" cy="49.1" r="1.50"/>
<circle cx="328.5" cy="49.1" r="1.50"/>
<circle cx="330.7" cy="48.8" r="1.50"/>
<circle cx="332.8" cy="49.2" r="1.50"/>
<circle cx="335.4" cy="48.9" r="1.50"/>
<circle cx="324.6" cy="51.3" r="1.50"/>
<circle cx="327.0" cy="51.0" r="1.50"/>
<circle cx="329.6" cy="51.1" r="1.50"/>
<circle cx="331.9" cy="51.3" r="1.50"/>
<circle cx="333.9" cy="51.3" r="1.50"/>
<circle cx="323.7" cy="53.1" r="1.50"/>
<circle cx="328.5" cy="53.6" r="1.50"/>
<circle cx="330.6" cy="53.1" r="1.50"/>
<circle cx="333.0" cy="53.3" r="1.50"/>
<circle cx="324.7" cy="55.6" r="1.50"/>
<circle cx="327.3" cy="55.3" r="1.50"/>
<circle cx="329.8" cy="55.4" r="1.50"/>
<circle cx="331.5" cy="55.5" r="1.50"/>
<circle cx="334.1" cy="55.3" r="1.50"/>
<circle cx="323.9" cy="57.3" r="1.50"/>
<circle cx="325.8" cy="57.6" r="1.50"/>
<circle cx="328.1" cy="57.2" r="1.50"/>
<circle cx="330.7" cy="57.2" r="1.50"/>
<circle cx="333.0" cy="57.5" r="1.50"/>
<circle cx="335.1" cy="57.3" r="1.50"/>
<circle cx="324.8" cy="59.4" r="1.50"/>
<circle cx="327.0" cy="59.5" r="1.50"/>
<circle cx="329.7" cy="59.7" r="1.50"/>
<circle cx="331.5" cy="59.4" r="1.50"/>
<circle cx="334.0" cy="59.8" r="1.50"/>
<circle cx="323.6" cy="61.6" r="1.50"/>
<circle cx="326.2" cy="61.5" r="1.50"/>
<circle cx="328.6" cy="61.6" r="1.50"/>
<circle cx="333.2" cy="61.7" r="1.50"/>
<circle cx="335.3" cy="61.5" r="1.50"/>
<circle cx="325.0" cy="63.8" r="1.50"/>
<circle cx="329.8" cy="63.9" r="1.50"/>
<circle cx="331.7" cy="64.0" r="1.50"/>
<circle cx="334.4" cy="63.5" r="1.50"/>
<circle cx="323.8" cy="65.8" r="1.50"/>
<circle cx="326.1" cy="65.8" r="1.50"/>
<circle cx="328.1" cy="66.0" r="1.50"/>
<circle cx="330.6" cy="66.1" r="1.50"/>
<circle cx="332.8" cy="66.1" r="1.50"/>
<circle cx="323.5" cy="66.7" r="1.50"/>
<circle cx="323.5" cy="67.7" r="1.50"/>
<circle cx="323.6" cy="68.7" r="1.50"/>
<circle cx="323.9" cy="71.2" r="1.50"/>
<circle cx="323.6" cy="72.2" r="1.50"/>
<circle cx="323.5" cy="76.2" r="1.50"/>
<circle cx="323.7" cy="77.2" r="1.50"/>
<circle cx="323.8" cy="78.2" r="1.50"/>
<circle cx="326.6" cy="66.3" r="1.50"/>
<circle cx="326.8" cy="72.2" r="1.50"/>
<circle cx="326.4" cy="73.2" r="1.50"/>
<circle cx="326.5" cy="74.2" r="1.50"/>
<circle cx="326.7" cy="78.0" r="1.50"/>
<circle cx="326.4" cy="79.0" r="1.50"/>
<circle cx="326.6" cy="80.0" r="1.50"/>
<circle cx="329.6" cy="68.8" r="1.50"/>
<circle cx="329.7" cy="69.8" r="1.50"/>
<circle cx="329.5" cy="70.8" r="1.50"/>
<circle cx="329.7" cy="71.8" r="1.50"/>
<circle cx="329.4" cy="72.8" r="1.50"/>
<circle cx="329.7" cy="73.8" r="1.50"/>
<circle cx="329.7" cy="75.0" r="1.50"/>
<circle cx="329.5" cy="76.0" r="1.50"/>
<circle cx="329.4" cy="77.0" r="1.50"/>
<circle cx="329.7" cy="78.0" r="1.50"/>
<circle cx="329.7" cy="79.0" r="1.50"/>
<circle cx="329.6" cy="80.0" r="1.50"/>
<circle cx="332.4" cy="66.9" r="1.50"/>
<circle cx="332.2" cy="68.8" r="1.50"/>
<circle cx="332.4" cy="69.8" r="1.50"/>
<circle cx="332.2" cy="70.8" r="1.50"/>
<circle cx="332.3" cy="71.8" r="1.50"/>
<circle cx="332.6" cy="72.8" r="1.50"/>
<circle cx="332.5" cy="73.8" r="1.50"/>
<circle cx="332.2" cy="77.4" r="1.50"/>
<circle cx="332.2" cy="78.4" r="1.50"/>
<circle cx="332.4" cy="79.4" r="1.50"/>
<circle cx="335.2" cy="67.8" r="1.50"/>
<circle cx="335.1" cy="68.8" r="1.50"/>
<circle cx="335.3" cy="69.8" r="1.50"/>
<circle cx="335.3" cy="70.8" r="1.50"/>
<circle cx="335.1" cy="71.8" r="1.50"/>
<circle cx="335.5" cy="72.8" r="1.50"/>
<circle cx="335.2" cy="73.8" r="1.50"/>
<circle cx="335.2" cy="74.8" r="1.50"/>
<circle cx="335.1" cy="75.8" r="1.50"/>
<circle cx="335.1" cy="76.8" r="1.50"/>
<circle cx="335.5" cy="77.8" r="1.50"/>
<circle cx="335.5" cy="78.8" r="1.50"/>
<circle cx="140.6" cy="63.0" r="1.50"/>
<circle cx="140.6" cy="64.0" r="1.50"/>
<circle cx="140.6" cy="65.0" r="1.50"/>
<circle cx="140.6" cy="66.0" r="1.50"/>
<circle cx="140.6" cy="67.0" r="1.50"/>
<circle cx="140.6" cy="68.0" r="1.50"/>
<circle cx="140.6" cy="69.0" r="1.50"/>
<circle cx="140.6" cy="70.0" r="1.50"/>
<circle cx="140.6" cy="71.0" r="1.50"/>
<circle cx="140.6" cy="72.0" r="1.50"/>
<circle cx="140.6" cy="73.0" r="1.50"/>
<circle cx="140.6" cy="74.0" r="1.50"/>
<circle cx="140.6" cy="75.0" r="1.50"/>
<circle cx="140.6" cy="76.0" r="1.50"/>
<circle cx="140.6" cy="77.0" r="1.50"/>
<circle cx="140.6" cy="78.0" r="1.50"/>
<circle cx="140.6" cy="79.0" r="1.50"/>
<circle cx="140.6" cy="80.0" r="1.50"/>
<circle cx="140.6" cy="81.0" r="1.50"/>
<circle cx="140.6" cy="82.0" r="1.50"/>
<circle cx="140.6" cy="83.0" r="1.50"/>
<circle cx="140.6" cy="84.0" r="1.50"/>
<circle cx="140.6" cy="85.0" r="1.50"/>
<circle cx="140.6" cy="86.0" r="1.50"/>
<circle cx="152.8" cy="63.0" r="1.50"/>
<circle cx="152.8" cy="64.0" r="1.50"/>
<circle cx="152.8" cy="65.0" r="1.50"/>
<circle cx="152.8" cy="66.0" r="1.50"/>
<circle cx="152.8" cy="67.0" r="1.50"/>
<circle cx="152.8" cy="68.0" r="1.50"/>
<circle cx="152.8" cy="69.0" r="1.50"/>
<circle cx="152.8" cy="70.0" r="1.50"/>
<circle cx="152.8" cy="71.0" r="1.50"/>
<circle cx="152.8" cy="72.0" r="1.50"/>
<circle cx="152.8" cy="73.0" r="1.50"/>
<circle cx="152.8" cy="74.0" r="1.50"/>
<circle cx="152.8" cy="75.0" r="1.50"/>
<circle cx="152.8" cy="76.0" r="1.50"/>
<circle cx="152.8" cy="77.0" r="1.50"/>
<circle cx="152.8" cy="78.0" r="1.50"/>
<circle cx="152.8" cy="79.0" r="1.50"/>
<circle cx="152.8" cy="80.0" r="1.50"/>
<circle cx="152.8" cy="81.0" r="1.50"/>
<circle cx="152.8" cy="82.0" r="1.50"/>
<circle cx="152.8" cy="83.0" r="1.50"/>
<circle cx="152.8" cy="84.0" r="1.50"/>
<circle cx="152.8" cy="85.0" r="1.50"/>
<circle cx="152.8" cy="86.0" r="1.50"/>
<circle cx="152.8" cy="87.0" r="1.50"/>
<circle cx="152.8" cy="88.0" r="1.50"/>
<circle cx="168.3" cy="62.0" r="1.50"/>
<circle cx="168.3" cy="63.0" r="1.50"/>
<circle cx="168.3" cy="64.0" r="1.50"/>
<circle cx="168.3" cy="65.0" r="1.50"/>
<circle cx="168.3" cy="66.0" r="1.50"/>
<circle cx="168.3" cy="67.0" r="1.50"/>
<circle cx="168.3" cy="68.0" r="1.50"/>
<circle cx="168.3" cy="69.0" r="1.50"/>
<circle cx="168.3" cy="70.0" r="1.50"/>
<circle cx="168.3" cy="71.0" r="1.50"/>
<circle cx="168.3" cy="72.0" r="1.50"/>
<circle cx="168.3" cy="73.0" r="1.50"/>
<circle cx="168.3" cy="74.0" r="1.50"/>
<circle cx="168.3" cy="75.0" r="1.50"/>
<circle cx="168.3" cy="76.0" r="1.50"/>
<circle cx="168.3" cy="77.0" r="1.50"/>
<circle cx="168.3" cy="78.0" r="1.50"/>
<circle cx="168.3" cy="79.0" r="1.50"/>
<circle cx="168.3" cy="80.0" r="1.50"/>
<circle cx="168.3" cy="81.0" r="1.50"/>
<circle cx="168.3" cy="82.0" r="1.50"/>
<circle cx="168.3" cy="83.0" r="1.50"/>
<circle cx="168.3" cy="84.0" r="1.50"/>
<circle cx="168.3" cy="85.0" r="1.50"/>
<circle cx="168.3" cy="86.0" r="1.50"/>
<circle cx="168.3" cy="87.0" r="1.50"/>
<circle cx="168.3" cy="88.0" r="1.50"/>
<circle cx="168.3" cy="89.0" r="1.50"/>
<circle cx="182.5" cy="63.0" r="1.50"/>
<circle cx="182.5" cy="64.0" r="1.50"/>
<circle cx="182.5" cy="65.0" r="1.50"/>
<circle cx="182.5" cy="66.0" r="1.50"/>
<circle cx="182.5" cy="67.0" r="1.50"/>
<circle cx="182.5" cy="68.0" r="1.50"/>
<circle cx="182.5" cy="69.0" r="1.50"/>
<circle cx="182.5" cy="70.0" r="1.50"/>
<circle cx="182.5" cy="71.0" r="1.50"/>
<circle cx="182.5" cy="72.0" r="1.50"/>
<circle cx="182.5" cy="73.0" r="1.50"/>
<circle cx="182.5" cy="74.0" r="1.50"/>
<circle cx="182.5" cy="75.0" r="1.50"/>
<circle cx="182.5" cy="76.0" r="1.50"/>
<circle cx="182.5" cy="77.0" r="1.50"/>
<circle cx="182.5" cy="78.0" r="1.50"/>
<circle cx="182.5" cy="79.0" r="1.50"/>
<circle cx="182.5" cy="80.0" r="1.50"/>
<circle cx="182.5" cy="81.0" r="1.50"/>
<circle cx="182.5" cy="82.0" r="1.50"/>
<circle cx="182.5" cy="83.0" r="1.50"/>
<circle cx="182.5" cy="84.0" r="1.50"/>
<circle cx="182.5" cy="85.0" r="1.50"/>
<circle cx="182.5" cy="86.0" r="1.50"/>
<circle cx="161.5" cy="70.0" r="1.50"/>
<circle cx="161.5" cy="71.0" r="1.50"/>
<circle cx="161.5" cy="72.0" r="1.50"/>
<circle cx="161.5" cy="73.0" r="1.50"/>
<circle cx="161.5" cy="74.0" r="1.50"/>
<circle cx="161.5" cy="75.0" r="1.50"/>
<circle cx="161.5" cy="76.0" r="1.50"/>
<circle cx="161.5" cy="77.0" r="1.50"/>
<circle cx="161.5" cy="78.0" r="1.50"/>
<circle cx="161.5" cy="79.0" r="1.50"/>
<circle cx="161.5" cy="80.0" r="1.50"/>
<circle cx="161.5" cy="81.0" r="1.50"/>
<circle cx="161.5" cy="82.0" r="1.50"/>
<circle cx="203.0" cy="60.0" r="1.50"/>
<circle cx="203.0" cy="61.5" r="1.50"/>
<circle cx="203.0" cy="63.0" r="1.50"/>
<circle cx="203.0" cy="64.5" r="1.50"/>
<circle cx="203.0" cy="66.0" r="1.50"/>
<circle cx="203.0" cy="67.5" r="1.50"/>
<circle cx="203.0" cy="69.0" r="1.50"/>
<circle cx="203.0" cy="70.5" r="1.50"/>
<circle cx="203.0" cy="72.0" r="1.50"/>
<circle cx="203.0" cy="73.5" r="1.50"/>
<circle cx="203.0" cy="75.0" r="1.50"/>
</g>
<polyline fill="none" stroke="#707070" stroke-width="0.95" points="48.0,88.2 60.0,86.6 75.0,85.0 90.0,84.2 100.0,82.4 105.0,81.4 115.0,81.0 125.0,80.2 140.0,79.0 144.0,78.2 155.0,78.1 170.7,77.0 185.0,76.2 215.0,75.7 231.0,74.6 245.0,73.8 260.0,72.4 275.0,71.0 285.0,68.6 295.0,67.6 305.0,66.4 320.0,65.0 330.1,63.4"/>
<path d="M41.5 14.0 V158.5 H336.5 M37.6 158.5 H41.5" fill="none" stroke="#3a3a3a" stroke-width="1"/>
<path d="M39.0 147.50 H41.5 M39.0 141.50 H41.5 M39.0 136.50 H41.5 M39.0 133.50 H41.5 M39.0 130.50 H41.5 M39.0 128.50 H41.5 M39.0 125.50 H41.5 M39.0 124.50 H41.5 M39.0 111.50 H41.5 M39.0 105.50 H41.5 M39.0 100.50 H41.5 M39.0 97.50 H41.5 M39.0 94.50 H41.5 M39.0 92.50 H41.5 M39.0 89.50 H41.5 M39.0 88.50 H41.5 M39.0 75.50 H41.5 M39.0 69.50 H41.5 M39.0 64.50 H41.5 M39.0 61.50 H41.5 M39.0 58.50 H41.5 M39.0 56.50 H41.5 M39.0 53.50 H41.5 M39.0 52.50 H41.5 M39.0 39.50 H41.5 M39.0 33.50 H41.5 M39.0 28.50 H41.5 M39.0 25.50 H41.5 M39.0 22.50 H41.5 M39.0 20.50 H41.5 M39.0 17.50 H41.5 M39.0 16.50 H41.5 M48.30 158.5 V162.2 M62.36 158.5 V162.2 M76.42 158.5 V162.2 M90.48 158.5 V162.2 M104.54 158.5 V162.2 M118.60 158.5 V162.2 M132.66 158.5 V162.2 M146.72 158.5 V162.2 M160.78 158.5 V162.2 M174.84 158.5 V162.2 M188.90 158.5 V162.2 M202.96 158.5 V162.2 M217.02 158.5 V162.2 M231.08 158.5 V162.2 M245.14 158.5 V162.2 M259.20 158.5 V162.2 M273.26 158.5 V162.2 M287.32 158.5 V162.2 M301.38 158.5 V162.2 M315.44 158.5 V162.2 M329.50 158.5 V162.2" stroke="#3a3a3a" stroke-width="0.8" fill="none"/>
<path d="M37.6 158.50 H41.5 M37.6 122.50 H41.5 M37.6 86.50 H41.5 M37.6 50.50 H41.5 M37.6 14.50 H41.5" stroke="#3a3a3a" stroke-width="1" fill="none"/>
<text x="33.9" y="161.1" text-anchor="end" font-size="9.8">10<tspan dx="0.5" dy="-3.6" font-size="6.3">−2</tspan></text>
<text x="33.9" y="125.1" text-anchor="end" font-size="9.8">10<tspan dx="0.5" dy="-3.6" font-size="6.3">−1</tspan></text>
<text x="33.9" y="89.1" text-anchor="end" font-size="9.8">10<tspan dx="0.5" dy="-3.6" font-size="6.3">0</tspan></text>
<text x="33.9" y="53.1" text-anchor="end" font-size="9.8">10<tspan dx="0.5" dy="-3.6" font-size="6.3">1</tspan></text>
<text x="33.9" y="17.1" text-anchor="end" font-size="9.8">10<tspan dx="0.5" dy="-3.6" font-size="6.3">2</tspan></text>
<text transform="translate(8.3,85.7) rotate(-90)" text-anchor="middle" font-size="10.1">Ratio of deletions to insertions</text>
<text transform="translate(50.90,165.6) rotate(-90)" text-anchor="end" font-size="9.97">Colorectal (<tspan font-style="italic">n</tspan> = 52)</text>
<text transform="translate(64.96,165.6) rotate(-90)" text-anchor="end" font-size="9.97">CNS (<tspan font-style="italic">n</tspan> = 287)</text>
<text transform="translate(79.02,165.6) rotate(-90)" text-anchor="end" font-size="9.97">Cervix (<tspan font-style="italic">n</tspan> = 20)</text>
<text transform="translate(93.08,165.6) rotate(-90)" text-anchor="end" font-size="9.97">Pancreas (<tspan font-style="italic">n</tspan> = 313)</text>
<text transform="translate(107.14,165.6) rotate(-90)" text-anchor="end" font-size="9.97">Esophagus (<tspan font-style="italic">n</tspan> = 97)</text>
<text transform="translate(121.20,165.6) rotate(-90)" text-anchor="end" font-size="9.97">Head / neck (<tspan font-style="italic">n</tspan> = 56)</text>
<text transform="translate(135.26,165.6) rotate(-90)" text-anchor="end" font-size="9.97">Biliary (<tspan font-style="italic">n</tspan> = 34)</text>
<text transform="translate(149.32,165.6) rotate(-90)" text-anchor="end" font-size="9.97">Prostate (<tspan font-style="italic">n</tspan> = 199)</text>
<text transform="translate(163.38,165.6) rotate(-90)" text-anchor="end" font-size="9.97">Stomach (<tspan font-style="italic">n</tspan> = 67)</text>
<text transform="translate(177.44,165.6) rotate(-90)" text-anchor="end" font-size="9.97">Lymphoid (<tspan font-style="italic">n</tspan> = 197)</text>
<text transform="translate(191.50,165.6) rotate(-90)" text-anchor="end" font-size="9.97">Liver (<tspan font-style="italic">n</tspan> = 314)</text>
<text transform="translate(205.56,165.6) rotate(-90)" text-anchor="end" font-size="9.97">Uterus (<tspan font-style="italic">n</tspan> = 44)</text>
<text transform="translate(219.62,165.6) rotate(-90)" text-anchor="end" font-size="9.97">Bladder (<tspan font-style="italic">n</tspan> = 23)</text>
<text transform="translate(233.68,165.6) rotate(-90)" text-anchor="end" font-size="9.97">Breast (<tspan font-style="italic">n</tspan> = 211)</text>
<text transform="translate(247.74,165.6) rotate(-90)" text-anchor="end" font-size="9.97">Myeloid (<tspan font-style="italic">n</tspan> = 33)</text>
<text transform="translate(261.80,165.6) rotate(-90)" text-anchor="end" font-size="9.97">Skin (<tspan font-style="italic">n</tspan> = 107)</text>
<text transform="translate(275.86,165.6) rotate(-90)" text-anchor="end" font-size="9.97">Lung (<tspan font-style="italic">n</tspan> = 82)</text>
<text transform="translate(289.92,165.6) rotate(-90)" text-anchor="end" font-size="9.97">Bone (<tspan font-style="italic">n</tspan> = 89)</text>
<text transform="translate(303.98,165.6) rotate(-90)" text-anchor="end" font-size="9.97">Thyroid (<tspan font-style="italic">n</tspan> = 48)</text>
<text transform="translate(318.04,165.6) rotate(-90)" text-anchor="end" font-size="9.97">Kidney (<tspan font-style="italic">n</tspan> = 186)</text>
<text transform="translate(332.10,165.6) rotate(-90)" text-anchor="end" font-size="9.97">Ovary (<tspan font-style="italic">n</tspan> = 110)</text>
<text x="-1.0" y="11.3" font-size="15" font-weight="bold">a</text>
<path d="M387.5 14.0 V190.5 H685 M384 190.5 H387.5" fill="none" stroke="#3a3a3a" stroke-width="1"/>
<path d="M384 190.50 H387.5 M384 146.50 H387.5 M384 102.50 H387.5 M384 58.50 H387.5 M384 14.50 H387.5" stroke="#3a3a3a" stroke-width="1" fill="none"/>
<path d="M395.00 190.5 V194 M409.12 190.5 V194 M423.23 190.5 V194 M437.35 190.5 V194 M451.46 190.5 V194 M465.57 190.5 V194 M479.69 190.5 V194 M493.81 190.5 V194 M507.92 190.5 V194 M522.03 190.5 V194 M536.15 190.5 V194 M550.26 190.5 V194 M564.38 190.5 V194 M578.50 190.5 V194 M592.61 190.5 V194 M606.73 190.5 V194 M620.84 190.5 V194 M634.96 190.5 V194 M649.07 190.5 V194 M663.18 190.5 V194 M677.30 190.5 V194" stroke="#3a3a3a" stroke-width="0.8" fill="none"/>
<text x="380.5" y="194.1" text-anchor="end" font-size="10.2">0</text>
<text x="380.5" y="150.1" text-anchor="end" font-size="10.2">5</text>
<text x="380.5" y="106.1" text-anchor="end" font-size="10.2">10</text>
<text x="380.5" y="62.1" text-anchor="end" font-size="10.2">15</text>
<text x="380.5" y="18.1" text-anchor="end" font-size="10.2">20</text>
<text transform="translate(361.9,102.6) rotate(-90)" text-anchor="middle" font-size="9.9">Indel size</text>
<text transform="translate(398.60,197.4) rotate(-90)" text-anchor="end" font-size="10">Colorectal</text>
<text transform="translate(412.72,197.4) rotate(-90)" text-anchor="end" font-size="10">CNS</text>
<text transform="translate(426.83,197.4) rotate(-90)" text-anchor="end" font-size="10">Cervix</text>
<text transform="translate(440.95,197.4) rotate(-90)" text-anchor="end" font-size="10">Pancreas</text>
<text transform="translate(455.06,197.4) rotate(-90)" text-anchor="end" font-size="10">Esophagus</text>
<text transform="translate(469.18,197.4) rotate(-90)" text-anchor="end" font-size="10">Head / neck</text>
<text transform="translate(483.29,197.4) rotate(-90)" text-anchor="end" font-size="10">Biliary</text>
<text transform="translate(497.41,197.4) rotate(-90)" text-anchor="end" font-size="10">Prostate</text>
<text transform="translate(511.52,197.4) rotate(-90)" text-anchor="end" font-size="10">Stomach</text>
<text transform="translate(525.63,197.4) rotate(-90)" text-anchor="end" font-size="10">Lymphoid</text>
<text transform="translate(539.75,197.4) rotate(-90)" text-anchor="end" font-size="10">Liver</text>
<text transform="translate(553.87,197.4) rotate(-90)" text-anchor="end" font-size="10">Uterus</text>
<text transform="translate(567.98,197.4) rotate(-90)" text-anchor="end" font-size="10">Bladder</text>
<text transform="translate(582.10,197.4) rotate(-90)" text-anchor="end" font-size="10">Breast</text>
<text transform="translate(596.21,197.4) rotate(-90)" text-anchor="end" font-size="10">Myeloid</text>
<text transform="translate(610.33,197.4) rotate(-90)" text-anchor="end" font-size="10">Skin</text>
<text transform="translate(624.44,197.4) rotate(-90)" text-anchor="end" font-size="10">Lung</text>
<text transform="translate(638.56,197.4) rotate(-90)" text-anchor="end" font-size="10">Bone</text>
<text transform="translate(652.67,197.4) rotate(-90)" text-anchor="end" font-size="10">Thyroid</text>
<text transform="translate(666.78,197.4) rotate(-90)" text-anchor="end" font-size="10">Kidney</text>
<text transform="translate(680.90,197.4) rotate(-90)" text-anchor="end" font-size="10">Ovary</text>
<text x="353.4" y="11.2" font-size="15" font-weight="bold">b</text>
<path d="M392.00 177.40 V178.20 M392.00 180.20 V181.00 M390.40 177.40 H393.60 M390.40 181.00 H393.60" stroke="#717171" stroke-width="0.9" fill="none"/>
<rect x="389.10" y="178.20" width="5.80" height="2.00" fill="#91cbef" stroke="#717171" stroke-width="0.9"/>
<path d="M389.10 179.20 H394.90" stroke="#717171" stroke-width="0.9"/>
<path d="M398.00 165.80 V171.10 M398.00 175.40 V181.20 M396.40 165.80 H399.60 M396.40 181.20 H399.60" stroke="#717171" stroke-width="0.9" fill="none"/>
<rect x="395.10" y="171.10" width="5.80" height="4.30" fill="#ec8980" stroke="#717171" stroke-width="0.9"/>
<path d="M395.10 172.90 H400.90" stroke="#717171" stroke-width="0.9"/>
<path d="M406.12 167.60 V174.60 M406.12 180.30 V181.20 M404.51 167.60 H407.72 M404.51 181.20 H407.72" stroke="#717171" stroke-width="0.9" fill="none"/>
<rect x="403.22" y="174.60" width="5.80" height="5.70" fill="#91cbef" stroke="#717171" stroke-width="0.9"/>
<path d="M403.22 178.50 H409.01" stroke="#717171" stroke-width="0.9"/>
<path d="M412.12 145.60 V162.10 M412.12 173.20 V181.20 M410.51 145.60 H413.72 M410.51 181.20 H413.72" stroke="#717171" stroke-width="0.9" fill="none"/>
<rect x="409.22" y="162.10" width="5.80" height="11.10" fill="#ec8980" stroke="#717171" stroke-width="0.9"/>
<path d="M409.22 167.90 H415.01" stroke="#717171" stroke-width="0.9"/>
<path d="M420.23 174.50 V175.90 M420.23 178.90 V179.60 M418.63 174.50 H421.83 M418.63 179.60 H421.83" stroke="#717171" stroke-width="0.9" fill="none"/>
<rect x="417.33" y="175.90" width="5.80" height="3.00" fill="#91cbef" stroke="#717171" stroke-width="0.9"/>
<path d="M417.33 177.80 H423.13" stroke="#717171" stroke-width="0.9"/>
<path d="M426.23 134.50 V148.20 M426.23 162.30 V167.90 M424.63 134.50 H427.83 M424.63 167.90 H427.83" stroke="#717171" stroke-width="0.9" fill="none"/>
<rect x="423.33" y="148.20" width="5.80" height="14.10" fill="#ec8980" stroke="#717171" stroke-width="0.9"/>
<path d="M423.33 157.40 H429.13" stroke="#717171" stroke-width="0.9"/>
<path d="M434.35 167.60 V174.10 M434.35 179.40 V181.20 M432.75 167.60 H435.95 M432.75 181.20 H435.95" stroke="#717171" stroke-width="0.9" fill="none"/>
<rect x="431.45" y="174.10" width="5.80" height="5.30" fill="#91cbef" stroke="#717171" stroke-width="0.9"/>
<path d="M431.45 178.30 H437.25" stroke="#717171" stroke-width="0.9"/>
<path d="M440.35 133.20 V152.10 M440.35 164.40 V176.40 M438.75 133.20 H441.95 M438.75 176.40 H441.95" stroke="#717171" stroke-width="0.9" fill="none"/>
<rect x="437.45" y="152.10" width="5.80" height="12.30" fill="#ec8980" stroke="#717171" stroke-width="0.9"/>
<path d="M437.45 158.80 H443.25" stroke="#717171" stroke-width="0.9"/>
<path d="M448.46 174.50 V176.40 M448.46 178.90 V179.80 M446.86 174.50 H450.06 M446.86 179.80 H450.06" stroke="#717171" stroke-width="0.9" fill="none"/>
<rect x="445.56" y="176.40" width="5.80" height="2.50" fill="#91cbef" stroke="#717171" stroke-width="0.9"/>
<path d="M445.56 177.60 H451.36" stroke="#717171" stroke-width="0.9"/>
<path d="M454.46 152.40 V163.00 M454.46 170.60 V176.40 M452.86 152.40 H456.06 M452.86 176.40 H456.06" stroke="#717171" stroke-width="0.9" fill="none"/>
<rect x="451.56" y="163.00" width="5.80" height="7.60" fill="#ec8980" stroke="#717171" stroke-width="0.9"/>
<path d="M451.56 167.10 H457.36" stroke="#717171" stroke-width="0.9"/>
<path d="M462.57 174.50 V175.90 M462.57 178.90 V180.80 M460.97 174.50 H464.18 M460.97 180.80 H464.18" stroke="#717171" stroke-width="0.9" fill="none"/>
<rect x="459.68" y="175.90" width="5.80" height="3.00" fill="#91cbef" stroke="#717171" stroke-width="0.9"/>
<path d="M459.68 177.60 H465.47" stroke="#717171" stroke-width="0.9"/>
<path d="M468.57 117.40 V140.30 M468.57 159.10 V175.50 M466.97 117.40 H470.18 M466.97 175.50 H470.18" stroke="#717171" stroke-width="0.9" fill="none"/>
<rect x="465.68" y="140.30" width="5.80" height="18.80" fill="#ec8980" stroke="#717171" stroke-width="0.9"/>
<path d="M465.68 151.20 H471.47" stroke="#717171" stroke-width="0.9"/>
<path d="M476.69 171.50 V175.90 M476.69 179.40 V181.20 M475.09 171.50 H478.29 M475.09 181.20 H478.29" stroke="#717171" stroke-width="0.9" fill="none"/>
<rect x="473.79" y="175.90" width="5.80" height="3.50" fill="#91cbef" stroke="#717171" stroke-width="0.9"/>
<path d="M473.79 177.60 H479.59" stroke="#717171" stroke-width="0.9"/>
<path d="M482.69 145.60 V152.90 M482.69 164.40 V180.30 M481.09 145.60 H484.29 M481.09 180.30 H484.29" stroke="#717171" stroke-width="0.9" fill="none"/>
<rect x="479.79" y="152.90" width="5.80" height="11.50" fill="#ec8980" stroke="#717171" stroke-width="0.9"/>
<path d="M479.79 158.20 H485.59" stroke="#717171" stroke-width="0.9"/>
<path d="M490.81 168.80 V174.60 M490.81 179.10 V180.80 M489.20 168.80 H492.41 M489.20 180.80 H492.41" stroke="#717171" stroke-width="0.9" fill="none"/>
<rect x="487.91" y="174.60" width="5.80" height="4.50" fill="#91cbef" stroke="#717171" stroke-width="0.9"/>
<path d="M487.91 176.80 H493.70" stroke="#717171" stroke-width="0.9"/>
<path d="M496.81 140.30 V154.20 M496.81 164.40 V175.40 M495.20 140.30 H498.41 M495.20 175.40 H498.41" stroke="#717171" stroke-width="0.9" fill="none"/>
<rect x="493.91" y="154.20" width="5.80" height="10.20" fill="#ec8980" stroke="#717171" stroke-width="0.9"/>
<path d="M493.91 157.70 H499.70" stroke="#717171" stroke-width="0.9"/>
<path d="M504.92 174.50 V176.20 M504.92 179.40 V181.20 M503.32 174.50 H506.52 M503.32 181.20 H506.52" stroke="#717171" stroke-width="0.9" fill="none"/>
<rect x="502.02" y="176.20" width="5.80" height="3.20" fill="#91cbef" stroke="#717171" stroke-width="0.9"/>
<path d="M502.02 177.80 H507.82" stroke="#717171" stroke-width="0.9"/>
<path d="M510.92 146.80 V157.90 M510.92 170.60 V181.20 M509.32 146.80 H512.52 M509.32 181.20 H512.52" stroke="#717171" stroke-width="0.9" fill="none"/>
<rect x="508.02" y="157.90" width="5.80" height="12.70" fill="#ec8980" stroke="#717171" stroke-width="0.9"/>
<path d="M508.02 165.30 H513.82" stroke="#717171" stroke-width="0.9"/>
<path d="M519.03 170.60 V175.90 M519.03 179.40 V181.20 M517.43 170.60 H520.63 M517.43 181.20 H520.63" stroke="#717171" stroke-width="0.9" fill="none"/>
<rect x="516.13" y="175.90" width="5.80" height="3.50" fill="#91cbef" stroke="#717171" stroke-width="0.9"/>
<path d="M516.13 177.30 H521.93" stroke="#717171" stroke-width="0.9"/>
<path d="M525.03 154.20 V165.30 M525.03 172.70 V178.90 M523.43 154.20 H526.63 M523.43 178.90 H526.63" stroke="#717171" stroke-width="0.9" fill="none"/>
<rect x="522.13" y="165.30" width="5.80" height="7.40" fill="#ec8980" stroke="#717171" stroke-width="0.9"/>
<path d="M522.13 168.80 H527.93" stroke="#717171" stroke-width="0.9"/>
<path d="M533.15 170.60 V174.60 M533.15 178.50 V180.80 M531.55 170.60 H534.75 M531.55 180.80 H534.75" stroke="#717171" stroke-width="0.9" fill="none"/>
<rect x="530.25" y="174.60" width="5.80" height="3.90" fill="#91cbef" stroke="#717171" stroke-width="0.9"/>
<path d="M530.25 176.80 H536.05" stroke="#717171" stroke-width="0.9"/>
<path d="M539.15 129.40 V146.00 M539.15 157.40 V169.40 M537.55 129.40 H540.75 M537.55 169.40 H540.75" stroke="#717171" stroke-width="0.9" fill="none"/>
<rect x="536.25" y="146.00" width="5.80" height="11.40" fill="#ec8980" stroke="#717171" stroke-width="0.9"/>
<path d="M536.25 151.70 H542.05" stroke="#717171" stroke-width="0.9"/>
<path d="M547.26 169.40 V173.20 M547.26 178.50 V181.20 M545.66 169.40 H548.87 M545.66 181.20 H548.87" stroke="#717171" stroke-width="0.9" fill="none"/>
<rect x="544.37" y="173.20" width="5.80" height="5.30" fill="#91cbef" stroke="#717171" stroke-width="0.9"/>
<path d="M544.37 175.90 H550.16" stroke="#717171" stroke-width="0.9"/>
<path d="M553.26 141.20 V152.40 M553.26 164.80 V181.20 M551.66 141.20 H554.87 M551.66 181.20 H554.87" stroke="#717171" stroke-width="0.9" fill="none"/>
<rect x="550.37" y="152.40" width="5.80" height="12.40" fill="#ec8980" stroke="#717171" stroke-width="0.9"/>
<path d="M550.37 158.20 H556.16" stroke="#717171" stroke-width="0.9"/>
<path d="M561.38 172.00 V173.80 M561.38 179.80 V181.00 M559.78 172.00 H562.98 M559.78 181.00 H562.98" stroke="#717171" stroke-width="0.9" fill="none"/>
<rect x="558.48" y="173.80" width="5.80" height="6.00" fill="#91cbef" stroke="#717171" stroke-width="0.9"/>
<path d="M558.48 176.80 H564.28" stroke="#717171" stroke-width="0.9"/>
<path d="M567.38 140.20 V151.20 M567.38 163.20 V172.70 M565.78 140.20 H568.98 M565.78 172.70 H568.98" stroke="#717171" stroke-width="0.9" fill="none"/>
<rect x="564.48" y="151.20" width="5.80" height="12.00" fill="#ec8980" stroke="#717171" stroke-width="0.9"/>
<path d="M564.48 159.10 H570.28" stroke="#717171" stroke-width="0.9"/>
<path d="M575.50 161.40 V171.10 M575.50 177.30 V181.20 M573.89 161.40 H577.10 M573.89 181.20 H577.10" stroke="#717171" stroke-width="0.9" fill="none"/>
<rect x="572.60" y="171.10" width="5.80" height="6.20" fill="#91cbef" stroke="#717171" stroke-width="0.9"/>
<path d="M572.60 174.10 H578.39" stroke="#717171" stroke-width="0.9"/>
<path d="M581.50 26.50 V104.30 M581.50 156.10 V168.30 M579.89 26.50 H583.10 M579.89 168.30 H583.10" stroke="#717171" stroke-width="0.9" fill="none"/>
<rect x="578.60" y="104.30" width="5.80" height="51.80" fill="#ec8980" stroke="#717171" stroke-width="0.9"/>
<path d="M578.60 147.80 H584.39" stroke="#717171" stroke-width="0.9"/>
<path d="M589.61 142.00 V164.40 M589.61 180.30 V181.50 M588.01 142.00 H591.21 M588.01 181.50 H591.21" stroke="#717171" stroke-width="0.9" fill="none"/>
<rect x="586.71" y="164.40" width="5.80" height="15.90" fill="#91cbef" stroke="#717171" stroke-width="0.9"/>
<path d="M586.71 171.10 H592.51" stroke="#717171" stroke-width="0.9"/>
<path d="M595.61 146.50 V162.30 M595.61 173.20 V181.50 M594.01 146.50 H597.21 M594.01 181.50 H597.21" stroke="#717171" stroke-width="0.9" fill="none"/>
<rect x="592.71" y="162.30" width="5.80" height="10.90" fill="#ec8980" stroke="#717171" stroke-width="0.9"/>
<path d="M592.71 168.80 H598.51" stroke="#717171" stroke-width="0.9"/>
<path d="M603.73 164.10 V169.20 M603.73 174.60 V179.40 M602.12 164.10 H605.33 M602.12 179.40 H605.33" stroke="#717171" stroke-width="0.9" fill="none"/>
<rect x="600.83" y="169.20" width="5.80" height="5.40" fill="#91cbef" stroke="#717171" stroke-width="0.9"/>
<path d="M600.83 171.80 H606.62" stroke="#717171" stroke-width="0.9"/>
<path d="M609.73 110.20 V139.30 M609.73 159.50 V178.50 M608.12 110.20 H611.33 M608.12 178.50 H611.33" stroke="#717171" stroke-width="0.9" fill="none"/>
<rect x="606.83" y="139.30" width="5.80" height="20.20" fill="#ec8980" stroke="#717171" stroke-width="0.9"/>
<path d="M606.83 150.30 H612.62" stroke="#717171" stroke-width="0.9"/>
<path d="M617.84 173.20 V176.80 M617.84 179.40 V181.50 M616.24 173.20 H619.44 M616.24 181.50 H619.44" stroke="#717171" stroke-width="0.9" fill="none"/>
<rect x="614.94" y="176.80" width="5.80" height="2.60" fill="#91cbef" stroke="#717171" stroke-width="0.9"/>
<path d="M614.94 178.20 H620.74" stroke="#717171" stroke-width="0.9"/>
<path d="M623.84 143.20 V157.90 M623.84 172.40 V178.20 M622.24 143.20 H625.44 M622.24 178.20 H625.44" stroke="#717171" stroke-width="0.9" fill="none"/>
<rect x="620.94" y="157.90" width="5.80" height="14.50" fill="#ec8980" stroke="#717171" stroke-width="0.9"/>
<path d="M620.94 167.40 H626.74" stroke="#717171" stroke-width="0.9"/>
<path d="M631.96 163.00 V171.50 M631.96 177.30 V181.20 M630.36 163.00 H633.56 M630.36 181.20 H633.56" stroke="#717171" stroke-width="0.9" fill="none"/>
<rect x="629.06" y="171.50" width="5.80" height="5.80" fill="#91cbef" stroke="#717171" stroke-width="0.9"/>
<path d="M629.06 175.40 H634.86" stroke="#717171" stroke-width="0.9"/>
<path d="M637.96 119.60 V146.30 M637.96 165.30 V178.20 M636.36 119.60 H639.56 M636.36 178.20 H639.56" stroke="#717171" stroke-width="0.9" fill="none"/>
<rect x="635.06" y="146.30" width="5.80" height="19.00" fill="#ec8980" stroke="#717171" stroke-width="0.9"/>
<path d="M635.06 157.00 H640.86" stroke="#717171" stroke-width="0.9"/>
<path d="M646.07 140.70 V158.20 M646.07 176.80 V181.20 M644.47 140.70 H647.67 M644.47 181.20 H647.67" stroke="#717171" stroke-width="0.9" fill="none"/>
<rect x="643.17" y="158.20" width="5.80" height="18.60" fill="#91cbef" stroke="#717171" stroke-width="0.9"/>
<path d="M643.17 167.10 H648.97" stroke="#717171" stroke-width="0.9"/>
<path d="M652.07 141.90 V153.80 M652.07 164.10 V172.70 M650.47 141.90 H653.67 M650.47 172.70 H653.67" stroke="#717171" stroke-width="0.9" fill="none"/>
<rect x="649.17" y="153.80" width="5.80" height="10.30" fill="#ec8980" stroke="#717171" stroke-width="0.9"/>
<path d="M649.17 158.50 H654.97" stroke="#717171" stroke-width="0.9"/>
<path d="M660.18 162.60 V169.40 M660.18 174.50 V181.20 M658.58 162.60 H661.78 M658.58 181.20 H661.78" stroke="#717171" stroke-width="0.9" fill="none"/>
<rect x="657.28" y="169.40" width="5.80" height="5.10" fill="#91cbef" stroke="#717171" stroke-width="0.9"/>
<path d="M657.28 172.00 H663.08" stroke="#717171" stroke-width="0.9"/>
<path d="M666.18 149.50 V158.20 M666.18 164.10 V171.50 M664.58 149.50 H667.78 M664.58 171.50 H667.78" stroke="#717171" stroke-width="0.9" fill="none"/>
<rect x="663.28" y="158.20" width="5.80" height="5.90" fill="#ec8980" stroke="#717171" stroke-width="0.9"/>
<path d="M663.28 161.80 H669.08" stroke="#717171" stroke-width="0.9"/>
<path d="M674.30 161.40 V170.20 M674.30 176.80 V181.20 M672.70 161.40 H675.90 M672.70 181.20 H675.90" stroke="#717171" stroke-width="0.9" fill="none"/>
<rect x="671.40" y="170.20" width="5.80" height="6.60" fill="#91cbef" stroke="#717171" stroke-width="0.9"/>
<path d="M671.40 173.20 H677.20" stroke="#717171" stroke-width="0.9"/>
<path d="M680.30 15.50 V54.10 M680.30 145.60 V178.20 M678.70 15.50 H681.90 M678.70 178.20 H681.90" stroke="#717171" stroke-width="0.9" fill="none"/>
<rect x="677.40" y="54.10" width="5.80" height="91.50" fill="#ec8980" stroke="#717171" stroke-width="0.9"/>
<path d="M677.40 124.20 H683.20" stroke="#717171" stroke-width="0.9"/>
<rect x="612.2" y="22.6" width="17" height="6" fill="#91cbef" stroke="#7aa2bd" stroke-width="0.6"/>
<rect x="612.2" y="35.3" width="17" height="6" fill="#ec8980" stroke="#b57a74" stroke-width="0.6"/>
<text x="632.4" y="28.8" font-size="8.6">Insertions</text>
<text x="632.4" y="41.5" font-size="8.6">Deletions</text>
</svg>
</body></html>
